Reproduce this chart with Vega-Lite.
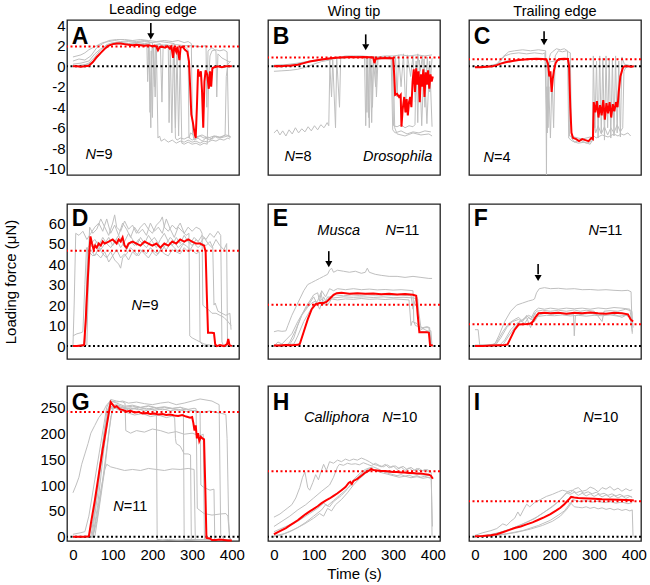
{
"$schema":"https://vega.github.io/schema/vega-lite/v6.json",
"padding":{"left":2,"top":0,"right":2,"bottom":3},
"config":{"font":"Liberation Sans","view":{"stroke":"#222","strokeWidth":1.3},
"axis":{"grid":false,"domain":false,"ticks":false,"labelFontSize":15,"labelColor":"#000","titleFontSize":15,"titleFontWeight":"normal","titleColor":"#000","labelPadding":2},
"axisY":{"minExtent":30,"maxExtent":30,"titlePadding":19},
"title":{"fontSize":14.5,"fontWeight":"normal","color":"#000","offset":1}},
"datasets":{
"A":[
{"s":0,"t":0,"v":0},{"s":0,"t":10,"v":0},{"s":0,"t":20,"v":-0.05},{"s":0,"t":30,"v":0},{"s":0,"t":40,"v":0.05},{"s":0,"t":50,"v":0.4},{"s":0,"t":60,"v":0.9},{"s":0,"t":70,"v":1.3},{"s":0,"t":80,"v":1.7},{"s":0,"t":90,"v":2.0},{"s":0,"t":100,"v":2.15},{"s":0,"t":110,"v":2.2},{"s":0,"t":120,"v":2.2},{"s":0,"t":130,"v":2.15},{"s":0,"t":140,"v":2.1},{"s":0,"t":150,"v":2.05},{"s":0,"t":160,"v":2.1},{"s":0,"t":170,"v":2.05},{"s":0,"t":180,"v":2.0},{"s":0,"t":190,"v":2.05},{"s":0,"t":200,"v":1.95},{"s":0,"t":205,"v":2.0},{"s":0,"t":210,"v":1.9},{"s":0,"t":214,"v":1.55},{"s":0,"t":218,"v":1.85},{"s":0,"t":225,"v":1.9},{"s":0,"t":232,"v":1.8},{"s":0,"t":238,"v":1.95},{"s":0,"t":244,"v":1.7},{"s":0,"t":248,"v":1.9},{"s":0,"t":252,"v":0.8},{"s":0,"t":255,"v":1.9},{"s":0,"t":260,"v":1.4},{"s":0,"t":263,"v":1.9},{"s":0,"t":268,"v":0.6},{"s":0,"t":271,"v":1.8},{"s":0,"t":276,"v":1.9},{"s":0,"t":282,"v":1.6},{"s":0,"t":288,"v":1.4},{"s":0,"t":292,"v":0.5},{"s":0,"t":295,"v":-2.0},{"s":0,"t":298,"v":-4.7},{"s":0,"t":302,"v":-5.5},{"s":0,"t":306,"v":-6.5},{"s":0,"t":309,"v":-7.0},{"s":0,"t":312,"v":-4.0},{"s":0,"t":315,"v":-0.3},{"s":0,"t":318,"v":-1.0},{"s":0,"t":322,"v":-0.5},{"s":0,"t":325,"v":-2.5},{"s":0,"t":328,"v":-6.0},{"s":0,"t":331,"v":-1.5},{"s":0,"t":334,"v":-0.4},{"s":0,"t":338,"v":-0.8},{"s":0,"t":342,"v":-2.2},{"s":0,"t":345,"v":-0.5},{"s":0,"t":348,"v":-2.0},{"s":0,"t":351,"v":-0.2},{"s":0,"t":356,"v":-0.1},{"s":0,"t":365,"v":0},{"s":0,"t":375,"v":-0.1},{"s":0,"t":385,"v":0},{"s":0,"t":395,"v":0},{"s":0,"t":400,"v":0},
{"s":1,"t":0,"v":0.9},{"s":1,"t":10,"v":1.0},{"s":1,"t":20,"v":1.1},{"s":1,"t":30,"v":1.3},{"s":1,"t":40,"v":1.6},{"s":1,"t":50,"v":1.8},{"s":1,"t":60,"v":2.0},{"s":1,"t":75,"v":2.3},{"s":1,"t":90,"v":2.4},{"s":1,"t":105,"v":2.5},{"s":1,"t":120,"v":2.4},{"s":1,"t":140,"v":2.5},{"s":1,"t":160,"v":2.4},{"s":1,"t":180,"v":2.5},{"s":1,"t":192,"v":2.4},{"s":1,"t":194,"v":-4.5},{"s":1,"t":197,"v":1.5},{"s":1,"t":200,"v":-5.0},{"s":1,"t":203,"v":2.0},{"s":1,"t":207,"v":-3},{"s":1,"t":210,"v":2.0},{"s":1,"t":214,"v":-7.0},{"s":1,"t":218,"v":-6.8},{"s":1,"t":222,"v":-7.3},{"s":1,"t":230,"v":-7.1},{"s":1,"t":240,"v":-7.4},{"s":1,"t":250,"v":-7.2},{"s":1,"t":260,"v":-7.5},{"s":1,"t":270,"v":-7.3},{"s":1,"t":280,"v":-7.4},{"s":1,"t":290,"v":-7.2},{"s":1,"t":300,"v":-7.4},{"s":1,"t":310,"v":-7.3},{"s":1,"t":320,"v":-7.5},{"s":1,"t":330,"v":-7.3},{"s":1,"t":340,"v":-7.4},{"s":1,"t":350,"v":-7.2},{"s":1,"t":360,"v":-7.3},{"s":1,"t":370,"v":-7.1},{"s":1,"t":380,"v":-7.2},{"s":1,"t":390,"v":-7.0},{"s":1,"t":395,"v":-7.1},
{"s":2,"t":0,"v":0.1},{"s":2,"t":20,"v":0},{"s":2,"t":40,"v":0.3},{"s":2,"t":55,"v":0.9},{"s":2,"t":70,"v":1.6},{"s":2,"t":85,"v":2.1},{"s":2,"t":100,"v":2.3},{"s":2,"t":120,"v":2.3},{"s":2,"t":140,"v":2.2},{"s":2,"t":160,"v":2.3},{"s":2,"t":180,"v":2.2},{"s":2,"t":200,"v":2.3},{"s":2,"t":205,"v":-2.0},{"s":2,"t":208,"v":2.1},{"s":2,"t":220,"v":2.2},{"s":2,"t":224,"v":-3.5},{"s":2,"t":227,"v":2.0},{"s":2,"t":235,"v":2.1},{"s":2,"t":245,"v":2.0},{"s":2,"t":249,"v":-6.5},{"s":2,"t":253,"v":1.8},{"s":2,"t":258,"v":-7.0},{"s":2,"t":262,"v":-7.2},{"s":2,"t":270,"v":-7.0},{"s":2,"t":280,"v":-7.1},{"s":2,"t":290,"v":-6.9},{"s":2,"t":300,"v":-7.2},{"s":2,"t":310,"v":-7.0},{"s":2,"t":320,"v":-6.8},{"s":2,"t":330,"v":-7.0},{"s":2,"t":340,"v":-6.9},{"s":2,"t":350,"v":-7.1},{"s":2,"t":360,"v":-6.8},{"s":2,"t":370,"v":-7.0},{"s":2,"t":380,"v":-6.9},{"s":2,"t":390,"v":-6.8},{"s":2,"t":398,"v":-6.9},
{"s":3,"t":0,"v":0.5},{"s":3,"t":15,"v":0.7},{"s":3,"t":30,"v":0.6},{"s":3,"t":45,"v":1.0},{"s":3,"t":60,"v":1.8},{"s":3,"t":75,"v":2.2},{"s":3,"t":90,"v":2.5},{"s":3,"t":110,"v":2.6},{"s":3,"t":130,"v":2.6},{"s":3,"t":150,"v":2.5},{"s":3,"t":170,"v":2.6},{"s":3,"t":190,"v":2.5},{"s":3,"t":210,"v":2.4},{"s":3,"t":230,"v":2.5},{"s":3,"t":250,"v":2.4},{"s":3,"t":265,"v":2.5},{"s":3,"t":280,"v":2.3},{"s":3,"t":290,"v":2.4},{"s":3,"t":298,"v":2.2},{"s":3,"t":301,"v":-6.5},{"s":3,"t":305,"v":-7.2},{"s":3,"t":315,"v":-7.0},{"s":3,"t":325,"v":-7.3},{"s":3,"t":335,"v":-7.0},{"s":3,"t":345,"v":-7.2},{"s":3,"t":355,"v":-6.8},{"s":3,"t":365,"v":-7.0},{"s":3,"t":375,"v":-6.9},{"s":3,"t":383,"v":-6.7},{"s":3,"t":386,"v":-1.0},{"s":3,"t":390,"v":0.2},{"s":3,"t":397,"v":0.5},
{"s":4,"t":0,"v":0.2},{"s":4,"t":20,"v":0.3},{"s":4,"t":40,"v":0.5},{"s":4,"t":55,"v":1.2},{"s":4,"t":70,"v":1.7},{"s":4,"t":85,"v":2.0},{"s":4,"t":100,"v":2.1},{"s":4,"t":120,"v":2.2},{"s":4,"t":140,"v":2.1},{"s":4,"t":160,"v":2.0},{"s":4,"t":180,"v":2.1},{"s":4,"t":200,"v":2.0},{"s":4,"t":220,"v":2.1},{"s":4,"t":240,"v":2.0},{"s":4,"t":260,"v":2.1},{"s":4,"t":280,"v":2.0},{"s":4,"t":300,"v":2.0},{"s":4,"t":320,"v":1.9},{"s":4,"t":335,"v":2.0},{"s":4,"t":337,"v":-4.0},{"s":4,"t":340,"v":1.5},{"s":4,"t":350,"v":1.8},{"s":4,"t":360,"v":1.5},{"s":4,"t":362,"v":-3.0},{"s":4,"t":365,"v":1.2},{"s":4,"t":375,"v":0.8},{"s":4,"t":385,"v":0.6},{"s":4,"t":395,"v":0.4},
{"s":5,"t":0,"v":0},{"s":5,"t":20,"v":0.1},{"s":5,"t":40,"v":0.2},{"s":5,"t":55,"v":0.6},{"s":5,"t":70,"v":1.3},{"s":5,"t":85,"v":1.9},{"s":5,"t":100,"v":2.2},{"s":5,"t":120,"v":2.3},{"s":5,"t":140,"v":2.4},{"s":5,"t":160,"v":2.3},{"s":5,"t":180,"v":2.4},{"s":5,"t":200,"v":2.3},{"s":5,"t":220,"v":2.4},{"s":5,"t":240,"v":2.3},{"s":5,"t":255,"v":2.2},{"s":5,"t":258,"v":-6.0},{"s":5,"t":262,"v":1.5},{"s":5,"t":266,"v":-6.8},{"s":5,"t":270,"v":1.0},{"s":5,"t":274,"v":-7.5},{"s":5,"t":280,"v":-7.6},{"s":5,"t":290,"v":-7.4},{"s":5,"t":300,"v":-7.6},{"s":5,"t":310,"v":-7.5},{"s":5,"t":320,"v":-7.7},{"s":5,"t":330,"v":-7.5},{"s":5,"t":338,"v":-7.6},{"s":5,"t":342,"v":-1.0},{"s":5,"t":345,"v":1.0},{"s":5,"t":350,"v":1.5},{"s":5,"t":360,"v":1.6},{"s":5,"t":370,"v":1.5},{"s":5,"t":380,"v":1.6},{"s":5,"t":388,"v":1.4},{"s":5,"t":392,"v":-6.8},{"s":5,"t":396,"v":-7.0},
{"s":6,"t":0,"v":0},{"s":6,"t":30,"v":0},{"s":6,"t":50,"v":0.3},{"s":6,"t":65,"v":1.0},{"s":6,"t":80,"v":1.8},{"s":6,"t":95,"v":2.1},{"s":6,"t":115,"v":2.2},{"s":6,"t":135,"v":2.1},{"s":6,"t":155,"v":2.2},{"s":6,"t":175,"v":2.1},{"s":6,"t":186,"v":2.2},{"s":6,"t":188,"v":-1.5},{"s":6,"t":190,"v":2.0},{"s":6,"t":196,"v":-6.0},{"s":6,"t":199,"v":1.8},{"s":6,"t":215,"v":1.9},{"s":6,"t":230,"v":2.0},{"s":6,"t":240,"v":1.8},{"s":6,"t":242,"v":-5.5},{"s":6,"t":245,"v":1.8},{"s":6,"t":258,"v":1.7},{"s":6,"t":270,"v":1.8},{"s":6,"t":282,"v":1.9},{"s":6,"t":290,"v":1.6},{"s":6,"t":292,"v":-7.0},{"s":6,"t":296,"v":-6.5},{"s":6,"t":310,"v":-6.9},{"s":6,"t":325,"v":-6.7},{"s":6,"t":340,"v":-7.0},{"s":6,"t":355,"v":-6.8},{"s":6,"t":370,"v":-6.9},{"s":6,"t":385,"v":-6.7},{"s":6,"t":395,"v":-6.8}
],
"B":[
{"s":0,"t":0,"v":0.0},{"s":0,"t":10,"v":0.02},{"s":0,"t":20,"v":0.0},{"s":0,"t":30,"v":0.05},{"s":0,"t":40,"v":0.05},{"s":0,"t":50,"v":0.1},{"s":0,"t":60,"v":0.15},{"s":0,"t":75,"v":0.3},{"s":0,"t":90,"v":0.45},{"s":0,"t":105,"v":0.55},{"s":0,"t":120,"v":0.65},{"s":0,"t":135,"v":0.72},{"s":0,"t":150,"v":0.8},{"s":0,"t":165,"v":0.85},{"s":0,"t":180,"v":0.88},{"s":0,"t":195,"v":0.9},{"s":0,"t":210,"v":0.88},{"s":0,"t":225,"v":0.9},{"s":0,"t":240,"v":0.88},{"s":0,"t":250,"v":0.85},{"s":0,"t":253,"v":0.3},{"s":0,"t":256,"v":0.7},{"s":0,"t":262,"v":0.75},{"s":0,"t":270,"v":0.78},{"s":0,"t":280,"v":0.8},{"s":0,"t":290,"v":0.78},{"s":0,"t":300,"v":0.78},{"s":0,"t":303,"v":-1.0},{"s":0,"t":305,"v":-2.8},{"s":0,"t":310,"v":-2.7},{"s":0,"t":315,"v":-3.0},{"s":0,"t":319,"v":-2.8},{"s":0,"t":321,"v":-5.9},{"s":0,"t":324,"v":-4.2},{"s":0,"t":328,"v":-3.0},{"s":0,"t":331,"v":-4.5},{"s":0,"t":334,"v":-3.2},{"s":0,"t":337,"v":-4.8},{"s":0,"t":340,"v":-3.5},{"s":0,"t":343,"v":-3.0},{"s":0,"t":346,"v":-4.0},{"s":0,"t":349,"v":-1.5},{"s":0,"t":352,"v":-0.3},{"s":0,"t":355,"v":-2.5},{"s":0,"t":358,"v":-0.2},{"s":0,"t":361,"v":-1.8},{"s":0,"t":364,"v":-0.5},{"s":0,"t":367,"v":-3.5},{"s":0,"t":370,"v":-0.8},{"s":0,"t":373,"v":-2.0},{"s":0,"t":376,"v":-0.3},{"s":0,"t":379,"v":-3.0},{"s":0,"t":382,"v":-0.6},{"s":0,"t":385,"v":-1.8},{"s":0,"t":388,"v":-0.4},{"s":0,"t":391,"v":-2.2},{"s":0,"t":394,"v":-0.8},{"s":0,"t":397,"v":-1.5},{"s":0,"t":400,"v":-1.0},
{"s":1,"t":0,"v":-6.5},{"s":1,"t":8,"v":-6.2},{"s":1,"t":15,"v":-6.7},{"s":1,"t":22,"v":-6.3},{"s":1,"t":30,"v":-6.8},{"s":1,"t":38,"v":-6.2},{"s":1,"t":46,"v":-6.6},{"s":1,"t":54,"v":-6.0},{"s":1,"t":62,"v":-6.5},{"s":1,"t":70,"v":-6.1},{"s":1,"t":78,"v":-6.4},{"s":1,"t":86,"v":-5.9},{"s":1,"t":94,"v":-6.3},{"s":1,"t":102,"v":-5.8},{"s":1,"t":110,"v":-6.2},{"s":1,"t":118,"v":-5.7},{"s":1,"t":126,"v":-6.0},{"s":1,"t":134,"v":-5.5},{"s":1,"t":138,"v":-5.8},{"s":1,"t":141,"v":0.6},{"s":1,"t":150,"v":0.7},{"s":1,"t":160,"v":0.8},{"s":1,"t":170,"v":0.9},{"s":1,"t":180,"v":1.0},{"s":1,"t":200,"v":1.0},{"s":1,"t":220,"v":1.0},{"s":1,"t":235,"v":0.95},{"s":1,"t":238,"v":-5.0},{"s":1,"t":241,"v":0.9},{"s":1,"t":260,"v":0.9},{"s":1,"t":280,"v":1.0},{"s":1,"t":300,"v":1.0},{"s":1,"t":320,"v":1.1},{"s":1,"t":340,"v":1.0},{"s":1,"t":360,"v":1.1},{"s":1,"t":380,"v":1.0},{"s":1,"t":398,"v":1.1},
{"s":2,"t":0,"v":-0.5},{"s":2,"t":20,"v":-0.45},{"s":2,"t":40,"v":-0.4},{"s":2,"t":60,"v":-0.3},{"s":2,"t":80,"v":-0.1},{"s":2,"t":100,"v":0.2},{"s":2,"t":120,"v":0.45},{"s":2,"t":140,"v":0.6},{"s":2,"t":145,"v":-3.0},{"s":2,"t":148,"v":0.6},{"s":2,"t":155,"v":-6.0},{"s":2,"t":158,"v":0.7},{"s":2,"t":165,"v":-4.0},{"s":2,"t":168,"v":0.75},{"s":2,"t":180,"v":0.85},{"s":2,"t":200,"v":0.9},{"s":2,"t":220,"v":0.9},{"s":2,"t":232,"v":0.85},{"s":2,"t":234,"v":-4.5},{"s":2,"t":236,"v":0.8},{"s":2,"t":240,"v":-6.0},{"s":2,"t":243,"v":0.7},{"s":2,"t":246,"v":-5.5},{"s":2,"t":250,"v":0.8},{"s":2,"t":256,"v":-2.0},{"s":2,"t":260,"v":0.7},{"s":2,"t":280,"v":0.75},{"s":2,"t":295,"v":0.7},{"s":2,"t":299,"v":-6.2},{"s":2,"t":305,"v":-6.5},{"s":2,"t":320,"v":-6.3},{"s":2,"t":335,"v":-6.6},{"s":2,"t":350,"v":-6.4},{"s":2,"t":365,"v":-6.5},{"s":2,"t":380,"v":-6.3},{"s":2,"t":395,"v":-6.4},
{"s":3,"t":0,"v":0.1},{"s":3,"t":30,"v":0.15},{"s":3,"t":60,"v":0.3},{"s":3,"t":90,"v":0.5},{"s":3,"t":120,"v":0.7},{"s":3,"t":150,"v":0.85},{"s":3,"t":180,"v":0.9},{"s":3,"t":210,"v":0.95},{"s":3,"t":228,"v":0.9},{"s":3,"t":231,"v":-5.8},{"s":3,"t":234,"v":0.9},{"s":3,"t":244,"v":0.8},{"s":3,"t":248,"v":-4.0},{"s":3,"t":251,"v":0.85},{"s":3,"t":270,"v":0.9},{"s":3,"t":290,"v":0.85},{"s":3,"t":298,"v":0.8},{"s":3,"t":301,"v":-5.8},{"s":3,"t":310,"v":-5.9},{"s":3,"t":320,"v":-5.7},{"s":3,"t":330,"v":-6.0},{"s":3,"t":340,"v":-5.8},{"s":3,"t":350,"v":-5.9},{"s":3,"t":355,"v":-5.7},{"s":3,"t":358,"v":0.5},{"s":3,"t":362,"v":-5.5},{"s":3,"t":366,"v":0.6},{"s":3,"t":372,"v":-5.8},{"s":3,"t":378,"v":0.7},{"s":3,"t":385,"v":-5.6},{"s":3,"t":392,"v":0.5},{"s":3,"t":398,"v":-5.9},
{"s":4,"t":0,"v":0.0},{"s":4,"t":40,"v":0.1},{"s":4,"t":80,"v":0.4},{"s":4,"t":120,"v":0.6},{"s":4,"t":160,"v":0.8},{"s":4,"t":200,"v":0.9},{"s":4,"t":240,"v":0.9},{"s":4,"t":270,"v":0.85},{"s":4,"t":285,"v":0.9},{"s":4,"t":300,"v":0.85},{"s":4,"t":303,"v":-0.5},{"s":4,"t":306,"v":1.0},{"s":4,"t":310,"v":-3.0},{"s":4,"t":314,"v":1.1},{"s":4,"t":320,"v":-2.0},{"s":4,"t":326,"v":1.2},{"s":4,"t":332,"v":-4.5},{"s":4,"t":336,"v":1.1},{"s":4,"t":344,"v":-1.0},{"s":4,"t":350,"v":1.0},{"s":4,"t":356,"v":-3.5},{"s":4,"t":362,"v":1.2},{"s":4,"t":368,"v":-0.5},{"s":4,"t":374,"v":1.0},{"s":4,"t":380,"v":-4.0},{"s":4,"t":386,"v":0.9},{"s":4,"t":392,"v":-2.5},{"s":4,"t":398,"v":0.8},
{"s":5,"t":0,"v":0.05},{"s":5,"t":50,"v":0.1},{"s":5,"t":100,"v":0.5},{"s":5,"t":150,"v":0.75},{"s":5,"t":200,"v":0.88},{"s":5,"t":240,"v":0.9},{"s":5,"t":255,"v":0.85},{"s":5,"t":258,"v":-3.0},{"s":5,"t":262,"v":0.8},{"s":5,"t":280,"v":0.85},{"s":5,"t":300,"v":0.8},{"s":5,"t":304,"v":-6.0},{"s":5,"t":310,"v":-6.6},{"s":5,"t":330,"v":-6.8},{"s":5,"t":350,"v":-6.5},{"s":5,"t":370,"v":-6.7},{"s":5,"t":390,"v":-6.6},{"s":5,"t":398,"v":-6.8}
],
"C":[
{"s":0,"t":0,"v":-0.1},{"s":0,"t":15,"v":-0.1},{"s":0,"t":30,"v":-0.05},{"s":0,"t":45,"v":0.0},{"s":0,"t":55,"v":0.1},{"s":0,"t":65,"v":0.25},{"s":0,"t":80,"v":0.4},{"s":0,"t":95,"v":0.5},{"s":0,"t":110,"v":0.6},{"s":0,"t":125,"v":0.65},{"s":0,"t":140,"v":0.7},{"s":0,"t":155,"v":0.72},{"s":0,"t":170,"v":0.7},{"s":0,"t":180,"v":0.65},{"s":0,"t":184,"v":0.2},{"s":0,"t":187,"v":-1.0},{"s":0,"t":190,"v":-0.5},{"s":0,"t":193,"v":-2.5},{"s":0,"t":196,"v":-1.2},{"s":0,"t":199,"v":-0.4},{"s":0,"t":203,"v":0.3},{"s":0,"t":208,"v":0.6},{"s":0,"t":215,"v":0.7},{"s":0,"t":225,"v":0.72},{"s":0,"t":234,"v":0.7},{"s":0,"t":237,"v":0.0},{"s":0,"t":240,"v":-4.0},{"s":0,"t":243,"v":-6.5},{"s":0,"t":247,"v":-7.0},{"s":0,"t":255,"v":-7.1},{"s":0,"t":262,"v":-7.3},{"s":0,"t":270,"v":-7.1},{"s":0,"t":278,"v":-7.2},{"s":0,"t":286,"v":-7.3},{"s":0,"t":293,"v":-7.0},{"s":0,"t":297,"v":-7.1},{"s":0,"t":299,"v":-3.5},{"s":0,"t":303,"v":-4.5},{"s":0,"t":307,"v":-3.4},{"s":0,"t":311,"v":-5.0},{"s":0,"t":315,"v":-3.8},{"s":0,"t":319,"v":-4.8},{"s":0,"t":323,"v":-3.3},{"s":0,"t":327,"v":-5.2},{"s":0,"t":331,"v":-3.6},{"s":0,"t":335,"v":-4.6},{"s":0,"t":339,"v":-3.5},{"s":0,"t":343,"v":-5.0},{"s":0,"t":347,"v":-3.7},{"s":0,"t":351,"v":-4.4},{"s":0,"t":355,"v":-3.5},{"s":0,"t":359,"v":-4.0},{"s":0,"t":362,"v":-2.5},{"s":0,"t":366,"v":-1.0},{"s":0,"t":369,"v":-0.6},{"s":0,"t":372,"v":-0.2},{"s":0,"t":376,"v":0.0},{"s":0,"t":385,"v":0.0},{"s":0,"t":393,"v":-0.05},{"s":0,"t":400,"v":0.0},
{"s":1,"t":0,"v":-0.1},{"s":1,"t":30,"v":0.0},{"s":1,"t":55,"v":0.2},{"s":1,"t":70,"v":0.9},{"s":1,"t":85,"v":1.4},{"s":1,"t":100,"v":1.5},{"s":1,"t":120,"v":1.6},{"s":1,"t":140,"v":1.5},{"s":1,"t":160,"v":1.6},{"s":1,"t":178,"v":1.5},{"s":1,"t":180,"v":-10.6},{"s":1,"t":181,"v":-2.0},{"s":1,"t":184,"v":-6.0},{"s":1,"t":187,"v":0.8},{"s":1,"t":190,"v":1.2},{"s":1,"t":195,"v":1.4},{"s":1,"t":205,"v":1.7},{"s":1,"t":215,"v":1.6},{"s":1,"t":225,"v":1.7},{"s":1,"t":233,"v":1.5},{"s":1,"t":236,"v":-7.0},{"s":1,"t":245,"v":-7.3},{"s":1,"t":260,"v":-7.5},{"s":1,"t":275,"v":-7.4},{"s":1,"t":290,"v":-7.6},{"s":1,"t":296,"v":-7.2},{"s":1,"t":298,"v":1.0},{"s":1,"t":302,"v":-6.0},{"s":1,"t":306,"v":0.5},{"s":1,"t":310,"v":-7.0},{"s":1,"t":314,"v":1.0},{"s":1,"t":318,"v":-6.5},{"s":1,"t":322,"v":0.8},{"s":1,"t":326,"v":-7.2},{"s":1,"t":330,"v":1.0},{"s":1,"t":334,"v":-6.0},{"s":1,"t":338,"v":0.8},{"s":1,"t":342,"v":-7.0},{"s":1,"t":346,"v":0.6},{"s":1,"t":350,"v":-6.8},{"s":1,"t":354,"v":1.0},{"s":1,"t":358,"v":-6.5},{"s":1,"t":362,"v":0.5},{"s":1,"t":366,"v":-6.9},{"s":1,"t":370,"v":0.9},{"s":1,"t":376,"v":0.2},{"s":1,"t":386,"v":0.1},{"s":1,"t":398,"v":0.0},
{"s":2,"t":0,"v":-0.1},{"s":2,"t":40,"v":0.0},{"s":2,"t":60,"v":0.3},{"s":2,"t":75,"v":1.0},{"s":2,"t":90,"v":1.2},{"s":2,"t":110,"v":1.3},{"s":2,"t":130,"v":1.2},{"s":2,"t":150,"v":1.3},{"s":2,"t":170,"v":1.2},{"s":2,"t":176,"v":1.3},{"s":2,"t":179,"v":-3.0},{"s":2,"t":182,"v":-6.5},{"s":2,"t":186,"v":-2.0},{"s":2,"t":190,"v":-7.0},{"s":2,"t":194,"v":-1.0},{"s":2,"t":198,"v":-6.0},{"s":2,"t":202,"v":1.0},{"s":2,"t":210,"v":1.5},{"s":2,"t":220,"v":1.4},{"s":2,"t":230,"v":1.5},{"s":2,"t":240,"v":1.3},{"s":2,"t":243,"v":-7.0},{"s":2,"t":250,"v":-7.4},{"s":2,"t":265,"v":-7.2},{"s":2,"t":280,"v":-7.5},{"s":2,"t":295,"v":-7.3},{"s":2,"t":300,"v":-6.8},{"s":2,"t":305,"v":-7.0},{"s":2,"t":320,"v":-6.7},{"s":2,"t":335,"v":-6.9},{"s":2,"t":350,"v":-6.6},{"s":2,"t":360,"v":-6.8},{"s":2,"t":368,"v":-6.6},{"s":2,"t":375,"v":-6.7},{"s":2,"t":385,"v":-6.5},{"s":2,"t":392,"v":-6.8},
{"s":3,"t":0,"v":-0.05},{"s":3,"t":50,"v":0.1},{"s":3,"t":80,"v":0.5},{"s":3,"t":110,"v":0.6},{"s":3,"t":140,"v":0.7},{"s":3,"t":170,"v":0.65},{"s":3,"t":181,"v":0.6},{"s":3,"t":183,"v":-4.0},{"s":3,"t":186,"v":0.4},{"s":3,"t":200,"v":0.5},{"s":3,"t":215,"v":0.6},{"s":3,"t":230,"v":0.65},{"s":3,"t":236,"v":0.6},{"s":3,"t":238,"v":-6.8},{"s":3,"t":250,"v":-6.9},{"s":3,"t":270,"v":-7.1},{"s":3,"t":290,"v":-6.9},{"s":3,"t":298,"v":-7.0},{"s":3,"t":300,"v":-5.5},{"s":3,"t":304,"v":-6.5},{"s":3,"t":310,"v":-5.8},{"s":3,"t":318,"v":-6.6},{"s":3,"t":326,"v":-5.9},{"s":3,"t":334,"v":-6.7},{"s":3,"t":342,"v":-6.0},{"s":3,"t":350,"v":-6.5},{"s":3,"t":358,"v":-5.7},{"s":3,"t":366,"v":-6.4},{"s":3,"t":372,"v":-6.0},{"s":3,"t":375,"v":-0.5},{"s":3,"t":380,"v":-0.1},{"s":3,"t":390,"v":0.0},{"s":3,"t":398,"v":-0.1}
],
"D":[
{"s":0,"t":0,"v":0},{"s":0,"t":10,"v":0},{"s":0,"t":20,"v":0.3},{"s":0,"t":28,"v":0.5},{"s":0,"t":32,"v":12},{"s":0,"t":36,"v":28},{"s":0,"t":40,"v":42},{"s":0,"t":44,"v":53.5},{"s":0,"t":48,"v":50},{"s":0,"t":52,"v":47},{"s":0,"t":56,"v":49},{"s":0,"t":60,"v":48},{"s":0,"t":65,"v":50},{"s":0,"t":70,"v":49},{"s":0,"t":75,"v":51},{"s":0,"t":80,"v":50},{"s":0,"t":90,"v":51},{"s":0,"t":100,"v":52},{"s":0,"t":110,"v":50},{"s":0,"t":115,"v":52},{"s":0,"t":120,"v":51},{"s":0,"t":125,"v":53},{"s":0,"t":130,"v":49},{"s":0,"t":135,"v":48},{"s":0,"t":140,"v":50},{"s":0,"t":150,"v":51},{"s":0,"t":160,"v":50},{"s":0,"t":170,"v":49},{"s":0,"t":180,"v":51},{"s":0,"t":190,"v":50},{"s":0,"t":200,"v":49},{"s":0,"t":210,"v":50},{"s":0,"t":220,"v":48},{"s":0,"t":230,"v":50},{"s":0,"t":240,"v":49},{"s":0,"t":250,"v":51},{"s":0,"t":260,"v":50},{"s":0,"t":270,"v":52},{"s":0,"t":280,"v":51},{"s":0,"t":290,"v":52},{"s":0,"t":300,"v":51},{"s":0,"t":310,"v":50},{"s":0,"t":320,"v":50},{"s":0,"t":330,"v":49},{"s":0,"t":334,"v":46},{"s":0,"t":337,"v":25},{"s":0,"t":340,"v":6.5},{"s":0,"t":345,"v":6.5},{"s":0,"t":350,"v":6.5},{"s":0,"t":355,"v":6.3},{"s":0,"t":358,"v":1},{"s":0,"t":362,"v":0},{"s":0,"t":370,"v":0.5},{"s":0,"t":380,"v":0},{"s":0,"t":388,"v":1},{"s":0,"t":391,"v":3.5},{"s":0,"t":394,"v":0.5},{"s":0,"t":400,"v":0},
{"s":1,"t":0,"v":0},{"s":1,"t":3,"v":20},{"s":1,"t":7,"v":55},{"s":1,"t":15,"v":54},{"s":1,"t":25,"v":56},{"s":1,"t":35,"v":52},{"s":1,"t":45,"v":55},{"s":1,"t":55,"v":58},{"s":1,"t":65,"v":60},{"s":1,"t":75,"v":56},{"s":1,"t":85,"v":62},{"s":1,"t":95,"v":55},{"s":1,"t":105,"v":59},{"s":1,"t":115,"v":54},{"s":1,"t":125,"v":60},{"s":1,"t":135,"v":57},{"s":1,"t":145,"v":53},{"s":1,"t":155,"v":58},{"s":1,"t":165,"v":55},{"s":1,"t":175,"v":57},{"s":1,"t":185,"v":54},{"s":1,"t":195,"v":60},{"s":1,"t":205,"v":56},{"s":1,"t":215,"v":58},{"s":1,"t":225,"v":55},{"s":1,"t":235,"v":62},{"s":1,"t":245,"v":57},{"s":1,"t":255,"v":53},{"s":1,"t":265,"v":58},{"s":1,"t":275,"v":56},{"s":1,"t":285,"v":54},{"s":1,"t":292,"v":55},{"s":1,"t":294,"v":5},{"s":1,"t":300,"v":4},{"s":1,"t":310,"v":3},{"s":1,"t":320,"v":2},{"s":1,"t":330,"v":1},{"s":1,"t":345,"v":0.5},{"s":1,"t":360,"v":0},{"s":1,"t":375,"v":0},{"s":1,"t":395,"v":0},
{"s":2,"t":0,"v":5},{"s":2,"t":10,"v":6},{"s":2,"t":20,"v":6.5},{"s":2,"t":25,"v":7},{"s":2,"t":30,"v":30},{"s":2,"t":34,"v":48},{"s":2,"t":40,"v":46},{"s":2,"t":50,"v":44},{"s":2,"t":60,"v":45},{"s":2,"t":70,"v":43},{"s":2,"t":80,"v":46},{"s":2,"t":90,"v":41},{"s":2,"t":100,"v":44},{"s":2,"t":110,"v":47},{"s":2,"t":120,"v":43},{"s":2,"t":130,"v":45},{"s":2,"t":140,"v":42},{"s":2,"t":150,"v":46},{"s":2,"t":160,"v":44},{"s":2,"t":170,"v":47},{"s":2,"t":180,"v":45},{"s":2,"t":190,"v":43},{"s":2,"t":200,"v":46},{"s":2,"t":210,"v":44},{"s":2,"t":220,"v":47},{"s":2,"t":230,"v":45},{"s":2,"t":240,"v":44},{"s":2,"t":250,"v":47},{"s":2,"t":260,"v":46},{"s":2,"t":270,"v":45},{"s":2,"t":280,"v":48},{"s":2,"t":290,"v":46},{"s":2,"t":300,"v":47},{"s":2,"t":310,"v":45},{"s":2,"t":318,"v":46},{"s":2,"t":320,"v":2},{"s":2,"t":330,"v":0},{"s":2,"t":345,"v":0},{"s":2,"t":360,"v":0},
{"s":3,"t":0,"v":0},{"s":3,"t":25,"v":0},{"s":3,"t":30,"v":2},{"s":3,"t":36,"v":30},{"s":3,"t":42,"v":58},{"s":3,"t":50,"v":55},{"s":3,"t":60,"v":57},{"s":3,"t":70,"v":62},{"s":3,"t":80,"v":58},{"s":3,"t":90,"v":54},{"s":3,"t":100,"v":60},{"s":3,"t":105,"v":64},{"s":3,"t":110,"v":58},{"s":3,"t":120,"v":56},{"s":3,"t":130,"v":61},{"s":3,"t":140,"v":57},{"s":3,"t":150,"v":59},{"s":3,"t":160,"v":55},{"s":3,"t":170,"v":58},{"s":3,"t":180,"v":60},{"s":3,"t":190,"v":57},{"s":3,"t":200,"v":55},{"s":3,"t":210,"v":59},{"s":3,"t":220,"v":61},{"s":3,"t":225,"v":63},{"s":3,"t":230,"v":58},{"s":3,"t":240,"v":56},{"s":3,"t":250,"v":59},{"s":3,"t":260,"v":57},{"s":3,"t":270,"v":60},{"s":3,"t":280,"v":55},{"s":3,"t":290,"v":58},{"s":3,"t":300,"v":56},{"s":3,"t":310,"v":58},{"s":3,"t":320,"v":57},{"s":3,"t":325,"v":55},{"s":3,"t":327,"v":20},{"s":3,"t":332,"v":19},{"s":3,"t":340,"v":18},{"s":3,"t":350,"v":16},{"s":3,"t":360,"v":16},{"s":3,"t":370,"v":15},{"s":3,"t":380,"v":14},{"s":3,"t":390,"v":12},{"s":3,"t":398,"v":10},
{"s":4,"t":0,"v":0},{"s":4,"t":30,"v":0.5},{"s":4,"t":34,"v":20},{"s":4,"t":38,"v":45},{"s":4,"t":45,"v":47},{"s":4,"t":55,"v":44},{"s":4,"t":65,"v":48},{"s":4,"t":75,"v":45},{"s":4,"t":85,"v":43},{"s":4,"t":95,"v":46},{"s":4,"t":105,"v":42},{"s":4,"t":115,"v":40},{"s":4,"t":120,"v":38},{"s":4,"t":125,"v":43},{"s":4,"t":135,"v":45},{"s":4,"t":145,"v":48},{"s":4,"t":155,"v":46},{"s":4,"t":165,"v":44},{"s":4,"t":175,"v":47},{"s":4,"t":185,"v":45},{"s":4,"t":195,"v":48},{"s":4,"t":205,"v":46},{"s":4,"t":215,"v":45},{"s":4,"t":225,"v":49},{"s":4,"t":235,"v":47},{"s":4,"t":245,"v":50},{"s":4,"t":255,"v":48},{"s":4,"t":265,"v":46},{"s":4,"t":275,"v":49},{"s":4,"t":285,"v":52},{"s":4,"t":295,"v":50},{"s":4,"t":305,"v":53},{"s":4,"t":315,"v":51},{"s":4,"t":325,"v":54},{"s":4,"t":335,"v":52},{"s":4,"t":345,"v":55},{"s":4,"t":355,"v":53},{"s":4,"t":365,"v":56},{"s":4,"t":372,"v":54},{"s":4,"t":375,"v":2},{"s":4,"t":380,"v":0},{"s":4,"t":390,"v":0},{"s":4,"t":398,"v":0},
{"s":5,"t":0,"v":0},{"s":5,"t":35,"v":0.5},{"s":5,"t":38,"v":25},{"s":5,"t":42,"v":50},{"s":5,"t":50,"v":48},{"s":5,"t":60,"v":51},{"s":5,"t":70,"v":47},{"s":5,"t":80,"v":50},{"s":5,"t":90,"v":53},{"s":5,"t":100,"v":49},{"s":5,"t":110,"v":52},{"s":5,"t":120,"v":48},{"s":5,"t":130,"v":51},{"s":5,"t":140,"v":55},{"s":5,"t":150,"v":52},{"s":5,"t":160,"v":49},{"s":5,"t":170,"v":53},{"s":5,"t":180,"v":50},{"s":5,"t":190,"v":54},{"s":5,"t":200,"v":51},{"s":5,"t":210,"v":48},{"s":5,"t":220,"v":52},{"s":5,"t":230,"v":55},{"s":5,"t":240,"v":51},{"s":5,"t":250,"v":49},{"s":5,"t":260,"v":53},{"s":5,"t":270,"v":50},{"s":5,"t":280,"v":54},{"s":5,"t":290,"v":51},{"s":5,"t":300,"v":49},{"s":5,"t":310,"v":52},{"s":5,"t":320,"v":50},{"s":5,"t":330,"v":53},{"s":5,"t":340,"v":50},{"s":5,"t":350,"v":48},{"s":5,"t":360,"v":52},{"s":5,"t":370,"v":49},{"s":5,"t":380,"v":47},{"s":5,"t":387,"v":50},{"s":5,"t":389,"v":3},{"s":5,"t":393,"v":1},{"s":5,"t":398,"v":0},
{"s":6,"t":0,"v":0},{"s":6,"t":28,"v":0},{"s":6,"t":32,"v":15},{"s":6,"t":37,"v":48},{"s":6,"t":45,"v":50},{"s":6,"t":55,"v":52},{"s":6,"t":65,"v":49},{"s":6,"t":75,"v":53},{"s":6,"t":85,"v":50},{"s":6,"t":95,"v":48},{"s":6,"t":105,"v":51},{"s":6,"t":115,"v":54},{"s":6,"t":125,"v":50},{"s":6,"t":135,"v":47},{"s":6,"t":145,"v":51},{"s":6,"t":155,"v":49},{"s":6,"t":165,"v":52},{"s":6,"t":175,"v":50},{"s":6,"t":185,"v":48},{"s":6,"t":195,"v":51},{"s":6,"t":205,"v":53},{"s":6,"t":215,"v":50},{"s":6,"t":225,"v":47},{"s":6,"t":235,"v":50},{"s":6,"t":245,"v":53},{"s":6,"t":255,"v":51},{"s":6,"t":265,"v":48},{"s":6,"t":275,"v":50},{"s":6,"t":285,"v":49},{"s":6,"t":295,"v":47},{"s":6,"t":305,"v":50},{"s":6,"t":315,"v":48},{"s":6,"t":325,"v":50},{"s":6,"t":335,"v":49},{"s":6,"t":345,"v":51},{"s":6,"t":352,"v":48},{"s":6,"t":355,"v":20},{"s":6,"t":358,"v":21},{"s":6,"t":365,"v":17},{"s":6,"t":375,"v":16},{"s":6,"t":385,"v":15},{"s":6,"t":395,"v":16},{"s":6,"t":398,"v":8}
],
"E":[
{"s":0,"t":0,"v":0.3},{"s":0,"t":15,"v":0.3},{"s":0,"t":30,"v":0.5},{"s":0,"t":45,"v":0.4},{"s":0,"t":60,"v":0.6},{"s":0,"t":65,"v":1},{"s":0,"t":75,"v":7},{"s":0,"t":85,"v":13},{"s":0,"t":95,"v":18},{"s":0,"t":105,"v":20.5},{"s":0,"t":115,"v":21},{"s":0,"t":125,"v":21},{"s":0,"t":132,"v":21.5},{"s":0,"t":140,"v":23},{"s":0,"t":150,"v":25},{"s":0,"t":158,"v":25.8},{"s":0,"t":170,"v":26},{"s":0,"t":190,"v":25.5},{"s":0,"t":210,"v":25.8},{"s":0,"t":230,"v":25.5},{"s":0,"t":250,"v":25.6},{"s":0,"t":270,"v":25.3},{"s":0,"t":290,"v":25.5},{"s":0,"t":310,"v":25.2},{"s":0,"t":330,"v":25.4},{"s":0,"t":350,"v":25.0},{"s":0,"t":358,"v":24.5},{"s":0,"t":362,"v":15},{"s":0,"t":366,"v":6.8},{"s":0,"t":375,"v":6.8},{"s":0,"t":385,"v":6.8},{"s":0,"t":390,"v":6.5},{"s":0,"t":393,"v":0.5},{"s":0,"t":400,"v":0.3},
{"s":1,"t":0,"v":7},{"s":1,"t":10,"v":7.5},{"s":1,"t":20,"v":7.2},{"s":1,"t":30,"v":7.4},{"s":1,"t":35,"v":10},{"s":1,"t":45,"v":15},{"s":1,"t":55,"v":19},{"s":1,"t":65,"v":23},{"s":1,"t":75,"v":27},{"s":1,"t":85,"v":30},{"s":1,"t":95,"v":31},{"s":1,"t":105,"v":32},{"s":1,"t":115,"v":33},{"s":1,"t":125,"v":34},{"s":1,"t":135,"v":35},{"s":1,"t":140,"v":37},{"s":1,"t":145,"v":38},{"s":1,"t":150,"v":36},{"s":1,"t":160,"v":37},{"s":1,"t":175,"v":36.5},{"s":1,"t":190,"v":36},{"s":1,"t":205,"v":36.5},{"s":1,"t":220,"v":35.5},{"s":1,"t":230,"v":36},{"s":1,"t":235,"v":38},{"s":1,"t":240,"v":36},{"s":1,"t":255,"v":35},{"s":1,"t":270,"v":34.5},{"s":1,"t":290,"v":34},{"s":1,"t":310,"v":34},{"s":1,"t":330,"v":33.5},{"s":1,"t":350,"v":34},{"s":1,"t":370,"v":33.5},{"s":1,"t":390,"v":33},{"s":1,"t":398,"v":33},
{"s":2,"t":0,"v":0},{"s":2,"t":20,"v":0},{"s":2,"t":40,"v":1},{"s":2,"t":50,"v":4},{"s":2,"t":60,"v":10},{"s":2,"t":70,"v":15},{"s":2,"t":80,"v":19},{"s":2,"t":90,"v":22},{"s":2,"t":100,"v":25},{"s":2,"t":110,"v":26},{"s":2,"t":115,"v":22},{"s":2,"t":120,"v":27},{"s":2,"t":130,"v":24},{"s":2,"t":140,"v":28},{"s":2,"t":150,"v":27},{"s":2,"t":160,"v":28},{"s":2,"t":180,"v":27.5},{"s":2,"t":200,"v":28},{"s":2,"t":220,"v":27.5},{"s":2,"t":240,"v":27.8},{"s":2,"t":260,"v":27.4},{"s":2,"t":280,"v":27.6},{"s":2,"t":300,"v":27.3},{"s":2,"t":320,"v":27.5},{"s":2,"t":340,"v":27.2},{"s":2,"t":350,"v":27},{"s":2,"t":352,"v":12},{"s":2,"t":356,"v":10},{"s":2,"t":365,"v":9.5},{"s":2,"t":375,"v":9},{"s":2,"t":385,"v":9.5},{"s":2,"t":392,"v":9},{"s":2,"t":394,"v":0.5},{"s":2,"t":398,"v":0},
{"s":3,"t":0,"v":0},{"s":3,"t":30,"v":0},{"s":3,"t":40,"v":2},{"s":3,"t":55,"v":8},{"s":3,"t":70,"v":15},{"s":3,"t":85,"v":19},{"s":3,"t":95,"v":21},{"s":3,"t":105,"v":22},{"s":3,"t":115,"v":18},{"s":3,"t":125,"v":24},{"s":3,"t":135,"v":20},{"s":3,"t":145,"v":23},{"s":3,"t":160,"v":22.5},{"s":3,"t":180,"v":23},{"s":3,"t":200,"v":22.8},{"s":3,"t":220,"v":23.2},{"s":3,"t":240,"v":22.8},{"s":3,"t":260,"v":23},{"s":3,"t":280,"v":22.7},{"s":3,"t":300,"v":23},{"s":3,"t":320,"v":22.8},{"s":3,"t":340,"v":22.5},{"s":3,"t":345,"v":10},{"s":3,"t":348,"v":12},{"s":3,"t":360,"v":11},{"s":3,"t":370,"v":8},{"s":3,"t":380,"v":9},{"s":3,"t":390,"v":9},{"s":3,"t":396,"v":0},
{"s":4,"t":0,"v":0},{"s":4,"t":10,"v":2},{"s":4,"t":20,"v":1},{"s":4,"t":30,"v":3},{"s":4,"t":45,"v":6},{"s":4,"t":60,"v":12},{"s":4,"t":75,"v":17},{"s":4,"t":90,"v":21},{"s":4,"t":100,"v":24},{"s":4,"t":110,"v":20},{"s":4,"t":120,"v":23},{"s":4,"t":130,"v":21},{"s":4,"t":140,"v":24},{"s":4,"t":155,"v":25},{"s":4,"t":175,"v":24.5},{"s":4,"t":195,"v":25},{"s":4,"t":215,"v":24.7},{"s":4,"t":235,"v":25},{"s":4,"t":255,"v":24.8},{"s":4,"t":275,"v":25},{"s":4,"t":295,"v":24.7},{"s":4,"t":315,"v":25},{"s":4,"t":335,"v":24.6},{"s":4,"t":345,"v":24.8},{"s":4,"t":350,"v":18},{"s":4,"t":355,"v":22},{"s":4,"t":360,"v":24},{"s":4,"t":365,"v":16},{"s":4,"t":370,"v":9},{"s":4,"t":380,"v":8},{"s":4,"t":392,"v":7},{"s":4,"t":396,"v":0},
{"s":5,"t":0,"v":0.5},{"s":5,"t":50,"v":1},{"s":5,"t":60,"v":5},{"s":5,"t":75,"v":12},{"s":5,"t":90,"v":17},{"s":5,"t":100,"v":20},{"s":5,"t":110,"v":22},{"s":5,"t":118,"v":26},{"s":5,"t":125,"v":20},{"s":5,"t":135,"v":24},{"s":5,"t":150,"v":23.5},{"s":5,"t":175,"v":24},{"s":5,"t":200,"v":23.8},{"s":5,"t":225,"v":24},{"s":5,"t":250,"v":23.7},{"s":5,"t":275,"v":24},{"s":5,"t":300,"v":23.6},{"s":5,"t":325,"v":23.8},{"s":5,"t":350,"v":23.5},{"s":5,"t":362,"v":23},{"s":5,"t":364,"v":8},{"s":5,"t":372,"v":7},{"s":5,"t":385,"v":7},{"s":5,"t":395,"v":7.5},{"s":5,"t":398,"v":0}
],
"F":[
{"s":0,"t":0,"v":0},{"s":0,"t":20,"v":0},{"s":0,"t":40,"v":0.3},{"s":0,"t":60,"v":0.4},{"s":0,"t":75,"v":0.5},{"s":0,"t":82,"v":0.8},{"s":0,"t":90,"v":4},{"s":0,"t":100,"v":8},{"s":0,"t":110,"v":10.5},{"s":0,"t":120,"v":10.7},{"s":0,"t":130,"v":10.8},{"s":0,"t":140,"v":11},{"s":0,"t":146,"v":12},{"s":0,"t":152,"v":14},{"s":0,"t":160,"v":16},{"s":0,"t":175,"v":16.2},{"s":0,"t":190,"v":16},{"s":0,"t":210,"v":16.3},{"s":0,"t":230,"v":15.8},{"s":0,"t":250,"v":16.2},{"s":0,"t":270,"v":16},{"s":0,"t":290,"v":16.4},{"s":0,"t":310,"v":16},{"s":0,"t":330,"v":15.8},{"s":0,"t":350,"v":16.2},{"s":0,"t":370,"v":16},{"s":0,"t":385,"v":15.5},{"s":0,"t":392,"v":13},{"s":0,"t":398,"v":12},
{"s":1,"t":0,"v":8},{"s":1,"t":8,"v":8},{"s":1,"t":12,"v":0.5},{"s":1,"t":30,"v":0.5},{"s":1,"t":50,"v":1},{"s":1,"t":60,"v":5},{"s":1,"t":75,"v":12},{"s":1,"t":90,"v":17},{"s":1,"t":105,"v":20},{"s":1,"t":120,"v":21},{"s":1,"t":135,"v":22},{"s":1,"t":145,"v":22.5},{"s":1,"t":150,"v":23},{"s":1,"t":155,"v":26},{"s":1,"t":162,"v":28},{"s":1,"t":175,"v":28.5},{"s":1,"t":190,"v":28},{"s":1,"t":210,"v":28.2},{"s":1,"t":230,"v":27.8},{"s":1,"t":250,"v":28},{"s":1,"t":270,"v":27.5},{"s":1,"t":290,"v":27.6},{"s":1,"t":310,"v":27.3},{"s":1,"t":330,"v":27.5},{"s":1,"t":350,"v":27.2},{"s":1,"t":370,"v":27},{"s":1,"t":385,"v":27.2},{"s":1,"t":393,"v":26.5},{"s":1,"t":396,"v":6},
{"s":2,"t":0,"v":0},{"s":2,"t":40,"v":0},{"s":2,"t":55,"v":2},{"s":2,"t":70,"v":7},{"s":2,"t":85,"v":11},{"s":2,"t":100,"v":13},{"s":2,"t":110,"v":14},{"s":2,"t":120,"v":12},{"s":2,"t":130,"v":15},{"s":2,"t":140,"v":13},{"s":2,"t":150,"v":17},{"s":2,"t":160,"v":18.5},{"s":2,"t":175,"v":18},{"s":2,"t":190,"v":18.5},{"s":2,"t":210,"v":18},{"s":2,"t":230,"v":18.5},{"s":2,"t":250,"v":18.2},{"s":2,"t":270,"v":18.5},{"s":2,"t":290,"v":18},{"s":2,"t":310,"v":18.6},{"s":2,"t":330,"v":18.2},{"s":2,"t":350,"v":18.8},{"s":2,"t":370,"v":18.5},{"s":2,"t":390,"v":18},{"s":2,"t":396,"v":10},
{"s":3,"t":0,"v":0},{"s":3,"t":50,"v":0},{"s":3,"t":65,"v":4},{"s":3,"t":80,"v":9},{"s":3,"t":95,"v":12},{"s":3,"t":110,"v":13},{"s":3,"t":125,"v":11},{"s":3,"t":135,"v":14},{"s":3,"t":150,"v":12},{"s":3,"t":160,"v":15},{"s":3,"t":175,"v":16},{"s":3,"t":195,"v":15.5},{"s":3,"t":215,"v":16},{"s":3,"t":235,"v":15.5},{"s":3,"t":248,"v":15.5},{"s":3,"t":250,"v":5},{"s":3,"t":253,"v":15},{"s":3,"t":270,"v":15.5},{"s":3,"t":290,"v":16},{"s":3,"t":310,"v":15.2},{"s":3,"t":330,"v":15.8},{"s":3,"t":350,"v":15.5},{"s":3,"t":370,"v":14},{"s":3,"t":380,"v":15},{"s":3,"t":390,"v":14.5},{"s":3,"t":396,"v":7},
{"s":4,"t":0,"v":0},{"s":4,"t":60,"v":0},{"s":4,"t":75,"v":3},{"s":4,"t":90,"v":8},{"s":4,"t":105,"v":11},{"s":4,"t":120,"v":13},{"s":4,"t":135,"v":15},{"s":4,"t":145,"v":14},{"s":4,"t":155,"v":17},{"s":4,"t":170,"v":17.5},{"s":4,"t":190,"v":17},{"s":4,"t":210,"v":17.5},{"s":4,"t":230,"v":17},{"s":4,"t":250,"v":17.6},{"s":4,"t":265,"v":17},{"s":4,"t":280,"v":17.5},{"s":4,"t":300,"v":17},{"s":4,"t":320,"v":12},{"s":4,"t":325,"v":17},{"s":4,"t":340,"v":17.3},{"s":4,"t":360,"v":17},{"s":4,"t":380,"v":18},{"s":4,"t":395,"v":17},{"s":4,"t":398,"v":9},
{"s":5,"t":0,"v":0.5},{"s":5,"t":70,"v":0.5},{"s":5,"t":85,"v":5},{"s":5,"t":100,"v":9},{"s":5,"t":115,"v":12},{"s":5,"t":130,"v":14},{"s":5,"t":140,"v":9},{"s":5,"t":150,"v":16},{"s":5,"t":160,"v":14.5},{"s":5,"t":180,"v":15},{"s":5,"t":200,"v":14.8},{"s":5,"t":220,"v":15.2},{"s":5,"t":240,"v":14.7},{"s":5,"t":260,"v":15},{"s":5,"t":280,"v":14.6},{"s":5,"t":300,"v":15},{"s":5,"t":320,"v":14.8},{"s":5,"t":340,"v":15.2},{"s":5,"t":360,"v":14.6},{"s":5,"t":380,"v":15},{"s":5,"t":394,"v":14}
],
"G":[
{"s":0,"t":0,"v":0},{"s":0,"t":10,"v":0},{"s":0,"t":20,"v":0},{"s":0,"t":30,"v":0},{"s":0,"t":40,"v":1},{"s":0,"t":45,"v":25},{"s":0,"t":55,"v":70},{"s":0,"t":65,"v":120},{"s":0,"t":75,"v":170},{"s":0,"t":85,"v":215},{"s":0,"t":95,"v":260},{"s":0,"t":100,"v":255},{"s":0,"t":105,"v":250},{"s":0,"t":110,"v":252},{"s":0,"t":118,"v":246},{"s":0,"t":125,"v":245},{"s":0,"t":135,"v":242},{"s":0,"t":145,"v":243},{"s":0,"t":155,"v":240},{"s":0,"t":165,"v":241},{"s":0,"t":175,"v":238},{"s":0,"t":185,"v":239},{"s":0,"t":195,"v":237},{"s":0,"t":205,"v":238},{"s":0,"t":215,"v":236},{"s":0,"t":225,"v":237},{"s":0,"t":235,"v":235},{"s":0,"t":245,"v":236},{"s":0,"t":255,"v":234},{"s":0,"t":265,"v":233},{"s":0,"t":275,"v":235},{"s":0,"t":285,"v":232},{"s":0,"t":295,"v":230},{"s":0,"t":300,"v":231},{"s":0,"t":303,"v":220},{"s":0,"t":306,"v":205},{"s":0,"t":309,"v":215},{"s":0,"t":312,"v":190},{"s":0,"t":315,"v":200},{"s":0,"t":318,"v":185},{"s":0,"t":322,"v":193},{"s":0,"t":326,"v":190},{"s":0,"t":330,"v":188},{"s":0,"t":333,"v":100},{"s":0,"t":336,"v":-2},{"s":0,"t":345,"v":-3},{"s":0,"t":350,"v":-6},{"s":0,"t":360,"v":-6},{"s":0,"t":370,"v":-5},{"s":0,"t":380,"v":-6},{"s":0,"t":390,"v":-7},{"s":0,"t":400,"v":-7},
{"s":1,"t":0,"v":85},{"s":1,"t":8,"v":100},{"s":1,"t":15,"v":115},{"s":1,"t":22,"v":140},{"s":1,"t":30,"v":160},{"s":1,"t":38,"v":180},{"s":1,"t":45,"v":200},{"s":1,"t":55,"v":215},{"s":1,"t":65,"v":230},{"s":1,"t":75,"v":240},{"s":1,"t":85,"v":255},{"s":1,"t":95,"v":262},{"s":1,"t":110,"v":260},{"s":1,"t":125,"v":262},{"s":1,"t":140,"v":258},{"s":1,"t":160,"v":260},{"s":1,"t":180,"v":257},{"s":1,"t":200,"v":255},{"s":1,"t":220,"v":258},{"s":1,"t":240,"v":260},{"s":1,"t":260,"v":255},{"s":1,"t":280,"v":258},{"s":1,"t":300,"v":262},{"s":1,"t":320,"v":266},{"s":1,"t":335,"v":264},{"s":1,"t":350,"v":262},{"s":1,"t":360,"v":258},{"s":1,"t":368,"v":255},{"s":1,"t":372,"v":5},{"s":1,"t":380,"v":-5},{"s":1,"t":390,"v":-6},{"s":1,"t":398,"v":-6},
{"s":2,"t":0,"v":5},{"s":2,"t":20,"v":8},{"s":2,"t":30,"v":10},{"s":2,"t":40,"v":40},{"s":2,"t":55,"v":110},{"s":2,"t":70,"v":180},{"s":2,"t":85,"v":250},{"s":2,"t":95,"v":265},{"s":2,"t":110,"v":262},{"s":2,"t":125,"v":260},{"s":2,"t":131,"v":258},{"s":2,"t":133,"v":205},{"s":2,"t":145,"v":200},{"s":2,"t":160,"v":205},{"s":2,"t":180,"v":202},{"s":2,"t":200,"v":208},{"s":2,"t":220,"v":205},{"s":2,"t":240,"v":200},{"s":2,"t":260,"v":203},{"s":2,"t":280,"v":198},{"s":2,"t":300,"v":200},{"s":2,"t":320,"v":195},{"s":2,"t":328,"v":198},{"s":2,"t":331,"v":-5},{"s":2,"t":340,"v":-6},{"s":2,"t":355,"v":-5},{"s":2,"t":370,"v":-6},{"s":2,"t":385,"v":-7},{"s":2,"t":398,"v":-7},
{"s":3,"t":0,"v":0},{"s":3,"t":50,"v":0},{"s":3,"t":60,"v":40},{"s":3,"t":70,"v":90},{"s":3,"t":80,"v":130},{"s":3,"t":85,"v":140},{"s":3,"t":95,"v":135},{"s":3,"t":110,"v":132},{"s":3,"t":130,"v":128},{"s":3,"t":150,"v":130},{"s":3,"t":170,"v":128},{"s":3,"t":190,"v":132},{"s":3,"t":210,"v":130},{"s":3,"t":230,"v":128},{"s":3,"t":250,"v":131},{"s":3,"t":270,"v":130},{"s":3,"t":290,"v":132},{"s":3,"t":305,"v":130},{"s":3,"t":308,"v":-5},{"s":3,"t":320,"v":-6},{"s":3,"t":340,"v":-5},{"s":3,"t":360,"v":-6},{"s":3,"t":380,"v":-6},{"s":3,"t":398,"v":-7},
{"s":4,"t":0,"v":0},{"s":4,"t":55,"v":0},{"s":4,"t":65,"v":50},{"s":4,"t":80,"v":130},{"s":4,"t":95,"v":230},{"s":4,"t":105,"v":255},{"s":4,"t":120,"v":250},{"s":4,"t":140,"v":245},{"s":4,"t":160,"v":248},{"s":4,"t":180,"v":243},{"s":4,"t":200,"v":246},{"s":4,"t":210,"v":244},{"s":4,"t":212,"v":-5},{"s":4,"t":225,"v":-6},{"s":4,"t":240,"v":-5},{"s":4,"t":260,"v":-6},{"s":4,"t":280,"v":-6},{"s":4,"t":300,"v":-5},{"s":4,"t":320,"v":-6},{"s":4,"t":340,"v":-7},{"s":4,"t":360,"v":-6},{"s":4,"t":380,"v":-7},{"s":4,"t":398,"v":-7},
{"s":5,"t":0,"v":0},{"s":5,"t":50,"v":0},{"s":5,"t":60,"v":30},{"s":5,"t":75,"v":110},{"s":5,"t":90,"v":200},{"s":5,"t":100,"v":250},{"s":5,"t":115,"v":245},{"s":5,"t":135,"v":240},{"s":5,"t":155,"v":235},{"s":5,"t":175,"v":238},{"s":5,"t":195,"v":232},{"s":5,"t":215,"v":235},{"s":5,"t":235,"v":230},{"s":5,"t":250,"v":233},{"s":5,"t":256,"v":230},{"s":5,"t":258,"v":190},{"s":5,"t":260,"v":180},{"s":5,"t":270,"v":175},{"s":5,"t":280,"v":160},{"s":5,"t":290,"v":160},{"s":5,"t":296,"v":158},{"s":5,"t":298,"v":-5},{"s":5,"t":310,"v":-6},{"s":5,"t":330,"v":-6},{"s":5,"t":350,"v":-5},{"s":5,"t":370,"v":-6},{"s":5,"t":390,"v":-7},
{"s":6,"t":0,"v":0},{"s":6,"t":45,"v":0},{"s":6,"t":55,"v":50},{"s":6,"t":70,"v":150},{"s":6,"t":85,"v":240},{"s":6,"t":95,"v":262},{"s":6,"t":110,"v":258},{"s":6,"t":130,"v":252},{"s":6,"t":150,"v":254},{"s":6,"t":170,"v":250},{"s":6,"t":190,"v":253},{"s":6,"t":210,"v":249},{"s":6,"t":230,"v":251},{"s":6,"t":250,"v":248},{"s":6,"t":270,"v":250},{"s":6,"t":278,"v":247},{"s":6,"t":280,"v":-5},{"s":6,"t":300,"v":-6},{"s":6,"t":330,"v":-6},{"s":6,"t":350,"v":-6},{"s":6,"t":370,"v":-6},{"s":6,"t":398,"v":-6},
{"s":7,"t":0,"v":0},{"s":7,"t":40,"v":0},{"s":7,"t":50,"v":30},{"s":7,"t":65,"v":120},{"s":7,"t":80,"v":210},{"s":7,"t":90,"v":250},{"s":7,"t":105,"v":248},{"s":7,"t":125,"v":250},{"s":7,"t":145,"v":247},{"s":7,"t":165,"v":250},{"s":7,"t":185,"v":246},{"s":7,"t":205,"v":249},{"s":7,"t":225,"v":245},{"s":7,"t":245,"v":248},{"s":7,"t":265,"v":244},{"s":7,"t":285,"v":246},{"s":7,"t":305,"v":243},{"s":7,"t":320,"v":240},{"s":7,"t":322,"v":100},{"s":7,"t":330,"v":95},{"s":7,"t":345,"v":90},{"s":7,"t":355,"v":92},{"s":7,"t":357,"v":-5},{"s":7,"t":370,"v":-6},{"s":7,"t":398,"v":-7},
{"s":8,"t":0,"v":0},{"s":8,"t":48,"v":0},{"s":8,"t":60,"v":70},{"s":8,"t":75,"v":170},{"s":8,"t":90,"v":245},{"s":8,"t":105,"v":250},{"s":8,"t":125,"v":246},{"s":8,"t":145,"v":249},{"s":8,"t":165,"v":245},{"s":8,"t":185,"v":248},{"s":8,"t":205,"v":244},{"s":8,"t":225,"v":247},{"s":8,"t":245,"v":243},{"s":8,"t":265,"v":246},{"s":8,"t":285,"v":242},{"s":8,"t":305,"v":244},{"s":8,"t":325,"v":240},{"s":8,"t":345,"v":243},{"s":8,"t":360,"v":240},{"s":8,"t":375,"v":238},{"s":8,"t":385,"v":236},{"s":8,"t":388,"v":190},{"s":8,"t":392,"v":30},{"s":8,"t":395,"v":-5},
{"s":9,"t":0,"v":0},{"s":9,"t":50,"v":0},{"s":9,"t":62,"v":60},{"s":9,"t":78,"v":170},{"s":9,"t":92,"v":250},{"s":9,"t":110,"v":255},{"s":9,"t":130,"v":250},{"s":9,"t":150,"v":252},{"s":9,"t":170,"v":249},{"s":9,"t":190,"v":252},{"s":9,"t":210,"v":248},{"s":9,"t":230,"v":250},{"s":9,"t":250,"v":247},{"s":9,"t":270,"v":250},{"s":9,"t":290,"v":246},{"s":9,"t":305,"v":248},{"s":9,"t":310,"v":247},{"s":9,"t":313,"v":55},{"s":9,"t":330,"v":45},{"s":9,"t":350,"v":42},{"s":9,"t":370,"v":44},{"s":9,"t":385,"v":45},{"s":9,"t":390,"v":40},{"s":9,"t":394,"v":0},{"s":9,"t":398,"v":-5}
],
"H":[
{"s":0,"t":0,"v":5},{"s":0,"t":10,"v":9},{"s":0,"t":20,"v":13},{"s":0,"t":30,"v":17},{"s":0,"t":40,"v":22},{"s":0,"t":50,"v":27},{"s":0,"t":60,"v":32},{"s":0,"t":70,"v":38},{"s":0,"t":80,"v":44},{"s":0,"t":90,"v":49},{"s":0,"t":100,"v":54},{"s":0,"t":110,"v":59},{"s":0,"t":120,"v":65},{"s":0,"t":130,"v":70},{"s":0,"t":140,"v":74},{"s":0,"t":150,"v":79},{"s":0,"t":160,"v":84},{"s":0,"t":170,"v":90},{"s":0,"t":180,"v":96},{"s":0,"t":188,"v":104},{"s":0,"t":192,"v":106},{"s":0,"t":196,"v":102},{"s":0,"t":200,"v":108},{"s":0,"t":210,"v":112},{"s":0,"t":220,"v":118},{"s":0,"t":230,"v":124},{"s":0,"t":240,"v":128},{"s":0,"t":245,"v":131},{"s":0,"t":250,"v":129},{"s":0,"t":260,"v":128},{"s":0,"t":270,"v":127},{"s":0,"t":280,"v":127},{"s":0,"t":290,"v":126},{"s":0,"t":300,"v":125},{"s":0,"t":310,"v":125},{"s":0,"t":320,"v":124},{"s":0,"t":330,"v":124},{"s":0,"t":340,"v":123},{"s":0,"t":350,"v":123},{"s":0,"t":360,"v":122},{"s":0,"t":370,"v":122},{"s":0,"t":380,"v":121},{"s":0,"t":390,"v":120},{"s":0,"t":395,"v":118},{"s":0,"t":400,"v":112},
{"s":1,"t":0,"v":38},{"s":1,"t":5,"v":40},{"s":1,"t":15,"v":44},{"s":1,"t":25,"v":50},{"s":1,"t":35,"v":56},{"s":1,"t":45,"v":62},{"s":1,"t":55,"v":75},{"s":1,"t":65,"v":95},{"s":1,"t":72,"v":115},{"s":1,"t":78,"v":125},{"s":1,"t":85,"v":95},{"s":1,"t":90,"v":90},{"s":1,"t":98,"v":105},{"s":1,"t":105,"v":120},{"s":1,"t":112,"v":110},{"s":1,"t":118,"v":125},{"s":1,"t":125,"v":140},{"s":1,"t":132,"v":128},{"s":1,"t":140,"v":145},{"s":1,"t":150,"v":142},{"s":1,"t":160,"v":148},{"s":1,"t":170,"v":145},{"s":1,"t":180,"v":150},{"s":1,"t":190,"v":147},{"s":1,"t":200,"v":150},{"s":1,"t":210,"v":148},{"s":1,"t":220,"v":152},{"s":1,"t":230,"v":149},{"s":1,"t":240,"v":145},{"s":1,"t":250,"v":140},{"s":1,"t":260,"v":138},{"s":1,"t":270,"v":135},{"s":1,"t":280,"v":140},{"s":1,"t":290,"v":133},{"s":1,"t":300,"v":137},{"s":1,"t":310,"v":130},{"s":1,"t":320,"v":135},{"s":1,"t":330,"v":128},{"s":1,"t":340,"v":133},{"s":1,"t":350,"v":127},{"s":1,"t":360,"v":132},{"s":1,"t":370,"v":126},{"s":1,"t":380,"v":130},{"s":1,"t":390,"v":125},{"s":1,"t":396,"v":124},{"s":1,"t":398,"v":0},
{"s":2,"t":0,"v":20},{"s":2,"t":20,"v":30},{"s":2,"t":40,"v":40},{"s":2,"t":60,"v":52},{"s":2,"t":80,"v":62},{"s":2,"t":100,"v":75},{"s":2,"t":120,"v":88},{"s":2,"t":140,"v":100},{"s":2,"t":150,"v":115},{"s":2,"t":160,"v":135},{"s":2,"t":165,"v":140},{"s":2,"t":175,"v":138},{"s":2,"t":185,"v":142},{"s":2,"t":195,"v":140},{"s":2,"t":205,"v":141},{"s":2,"t":215,"v":139},{"s":2,"t":225,"v":143},{"s":2,"t":235,"v":140},{"s":2,"t":245,"v":137},{"s":2,"t":255,"v":142},{"s":2,"t":265,"v":138},{"s":2,"t":275,"v":135},{"s":2,"t":285,"v":139},{"s":2,"t":295,"v":134},{"s":2,"t":305,"v":137},{"s":2,"t":315,"v":132},{"s":2,"t":325,"v":136},{"s":2,"t":335,"v":130},{"s":2,"t":345,"v":134},{"s":2,"t":355,"v":128},{"s":2,"t":365,"v":132},{"s":2,"t":375,"v":127},{"s":2,"t":385,"v":130},{"s":2,"t":395,"v":126},
{"s":3,"t":0,"v":0},{"s":3,"t":20,"v":4},{"s":3,"t":40,"v":10},{"s":3,"t":60,"v":18},{"s":3,"t":80,"v":28},{"s":3,"t":100,"v":40},{"s":3,"t":120,"v":52},{"s":3,"t":130,"v":62},{"s":3,"t":140,"v":58},{"s":3,"t":150,"v":68},{"s":3,"t":160,"v":74},{"s":3,"t":170,"v":80},{"s":3,"t":180,"v":88},{"s":3,"t":190,"v":98},{"s":3,"t":200,"v":110},{"s":3,"t":210,"v":118},{"s":3,"t":220,"v":125},{"s":3,"t":230,"v":130},{"s":3,"t":240,"v":133},{"s":3,"t":250,"v":135},{"s":3,"t":260,"v":132},{"s":3,"t":270,"v":128},{"s":3,"t":280,"v":125},{"s":3,"t":290,"v":122},{"s":3,"t":300,"v":120},{"s":3,"t":310,"v":118},{"s":3,"t":320,"v":120},{"s":3,"t":330,"v":117},{"s":3,"t":340,"v":119},{"s":3,"t":350,"v":116},{"s":3,"t":360,"v":118},{"s":3,"t":370,"v":115},{"s":3,"t":380,"v":117},{"s":3,"t":390,"v":114},{"s":3,"t":396,"v":115},
{"s":4,"t":0,"v":2},{"s":4,"t":25,"v":6},{"s":4,"t":50,"v":14},{"s":4,"t":75,"v":24},{"s":4,"t":100,"v":36},{"s":4,"t":115,"v":45},{"s":4,"t":125,"v":40},{"s":4,"t":135,"v":55},{"s":4,"t":145,"v":50},{"s":4,"t":155,"v":62},{"s":4,"t":170,"v":72},{"s":4,"t":185,"v":85},{"s":4,"t":200,"v":100},{"s":4,"t":215,"v":112},{"s":4,"t":230,"v":122},{"s":4,"t":245,"v":130},{"s":4,"t":260,"v":128},{"s":4,"t":280,"v":126},{"s":4,"t":300,"v":124},{"s":4,"t":320,"v":125},{"s":4,"t":340,"v":122},{"s":4,"t":360,"v":121},{"s":4,"t":380,"v":119},{"s":4,"t":395,"v":118},
{"s":5,"t":0,"v":10},{"s":5,"t":30,"v":20},{"s":5,"t":60,"v":30},{"s":5,"t":90,"v":45},{"s":5,"t":110,"v":55},{"s":5,"t":125,"v":65},{"s":5,"t":135,"v":60},{"s":5,"t":150,"v":70},{"s":5,"t":165,"v":80},{"s":5,"t":180,"v":90},{"s":5,"t":195,"v":100},{"s":5,"t":210,"v":115},{"s":5,"t":225,"v":125},{"s":5,"t":240,"v":132},{"s":5,"t":255,"v":128},{"s":5,"t":270,"v":124},{"s":5,"t":285,"v":121},{"s":5,"t":300,"v":118},{"s":5,"t":315,"v":115},{"s":5,"t":330,"v":117},{"s":5,"t":345,"v":114},{"s":5,"t":360,"v":116},{"s":5,"t":375,"v":113},{"s":5,"t":390,"v":115},{"s":5,"t":396,"v":110},{"s":5,"t":399,"v":20}
],
"I":[
{"s":0,"t":0,"v":1},{"s":0,"t":20,"v":1.5},{"s":0,"t":40,"v":3},{"s":0,"t":55,"v":5},{"s":0,"t":70,"v":9},{"s":0,"t":85,"v":13},{"s":0,"t":100,"v":17},{"s":0,"t":115,"v":20},{"s":0,"t":130,"v":24},{"s":0,"t":145,"v":28},{"s":0,"t":160,"v":33},{"s":0,"t":175,"v":38},{"s":0,"t":190,"v":44},{"s":0,"t":205,"v":51},{"s":0,"t":215,"v":56},{"s":0,"t":225,"v":63},{"s":0,"t":235,"v":71},{"s":0,"t":242,"v":77},{"s":0,"t":250,"v":76},{"s":0,"t":260,"v":75},{"s":0,"t":270,"v":74.5},{"s":0,"t":285,"v":74},{"s":0,"t":300,"v":73.5},{"s":0,"t":320,"v":72.5},{"s":0,"t":340,"v":72},{"s":0,"t":360,"v":71.5},{"s":0,"t":380,"v":71},{"s":0,"t":395,"v":70.5},{"s":0,"t":400,"v":70},
{"s":1,"t":0,"v":3},{"s":1,"t":20,"v":8},{"s":1,"t":40,"v":12},{"s":1,"t":55,"v":16},{"s":1,"t":70,"v":25},{"s":1,"t":80,"v":22},{"s":1,"t":90,"v":30},{"s":1,"t":100,"v":36},{"s":1,"t":108,"v":48},{"s":1,"t":114,"v":40},{"s":1,"t":122,"v":52},{"s":1,"t":130,"v":63},{"s":1,"t":138,"v":58},{"s":1,"t":150,"v":66},{"s":1,"t":165,"v":72},{"s":1,"t":180,"v":78},{"s":1,"t":195,"v":82},{"s":1,"t":210,"v":87},{"s":1,"t":220,"v":90},{"s":1,"t":230,"v":88},{"s":1,"t":240,"v":85},{"s":1,"t":250,"v":92},{"s":1,"t":260,"v":95},{"s":1,"t":270,"v":88},{"s":1,"t":280,"v":90},{"s":1,"t":290,"v":96},{"s":1,"t":300,"v":93},{"s":1,"t":310,"v":87},{"s":1,"t":320,"v":95},{"s":1,"t":330,"v":92},{"s":1,"t":340,"v":97},{"s":1,"t":350,"v":90},{"s":1,"t":360,"v":94},{"s":1,"t":370,"v":88},{"s":1,"t":380,"v":93},{"s":1,"t":390,"v":89},{"s":1,"t":396,"v":91},
{"s":2,"t":0,"v":0},{"s":2,"t":30,"v":3},{"s":2,"t":60,"v":8},{"s":2,"t":90,"v":15},{"s":2,"t":120,"v":25},{"s":2,"t":150,"v":35},{"s":2,"t":175,"v":48},{"s":2,"t":200,"v":62},{"s":2,"t":215,"v":72},{"s":2,"t":225,"v":80},{"s":2,"t":235,"v":88},{"s":2,"t":245,"v":90},{"s":2,"t":255,"v":85},{"s":2,"t":265,"v":88},{"s":2,"t":275,"v":84},{"s":2,"t":285,"v":87},{"s":2,"t":295,"v":83},{"s":2,"t":305,"v":86},{"s":2,"t":315,"v":82},{"s":2,"t":325,"v":84},{"s":2,"t":335,"v":80},{"s":2,"t":345,"v":83},{"s":2,"t":355,"v":79},{"s":2,"t":365,"v":82},{"s":2,"t":375,"v":78},{"s":2,"t":385,"v":80},{"s":2,"t":395,"v":77},
{"s":3,"t":0,"v":0},{"s":3,"t":40,"v":2},{"s":3,"t":80,"v":6},{"s":3,"t":120,"v":12},{"s":3,"t":160,"v":22},{"s":3,"t":190,"v":32},{"s":3,"t":210,"v":42},{"s":3,"t":225,"v":50},{"s":3,"t":235,"v":60},{"s":3,"t":240,"v":66},{"s":3,"t":250,"v":58},{"s":3,"t":260,"v":57},{"s":3,"t":270,"v":56},{"s":3,"t":280,"v":58},{"s":3,"t":290,"v":55},{"s":3,"t":300,"v":57},{"s":3,"t":310,"v":54},{"s":3,"t":320,"v":56},{"s":3,"t":330,"v":53},{"s":3,"t":340,"v":55},{"s":3,"t":350,"v":52},{"s":3,"t":360,"v":54},{"s":3,"t":370,"v":51},{"s":3,"t":380,"v":53},{"s":3,"t":390,"v":50},{"s":3,"t":396,"v":52},{"s":3,"t":398,"v":0},
{"s":4,"t":0,"v":0},{"s":4,"t":40,"v":4},{"s":4,"t":70,"v":10},{"s":4,"t":100,"v":18},{"s":4,"t":130,"v":28},{"s":4,"t":155,"v":38},{"s":4,"t":175,"v":48},{"s":4,"t":195,"v":58},{"s":4,"t":210,"v":68},{"s":4,"t":222,"v":78},{"s":4,"t":230,"v":85},{"s":4,"t":240,"v":82},{"s":4,"t":250,"v":86},{"s":4,"t":260,"v":80},{"s":4,"t":270,"v":84},{"s":4,"t":280,"v":79},{"s":4,"t":290,"v":83},{"s":4,"t":300,"v":78},{"s":4,"t":310,"v":82},{"s":4,"t":320,"v":77},{"s":4,"t":330,"v":81},{"s":4,"t":340,"v":76},{"s":4,"t":350,"v":80},{"s":4,"t":360,"v":75},{"s":4,"t":370,"v":79},{"s":4,"t":380,"v":74},{"s":4,"t":390,"v":78},{"s":4,"t":396,"v":76},
{"s":5,"t":0,"v":0},{"s":5,"t":50,"v":2},{"s":5,"t":100,"v":8},{"s":5,"t":140,"v":15},{"s":5,"t":170,"v":22},{"s":5,"t":195,"v":30},{"s":5,"t":215,"v":40},{"s":5,"t":230,"v":52},{"s":5,"t":240,"v":62},{"s":5,"t":246,"v":72},{"s":5,"t":255,"v":70},{"s":5,"t":265,"v":68},{"s":5,"t":280,"v":70},{"s":5,"t":295,"v":67},{"s":5,"t":310,"v":69},{"s":5,"t":325,"v":66},{"s":5,"t":340,"v":68},{"s":5,"t":355,"v":65},{"s":5,"t":370,"v":67},{"s":5,"t":385,"v":64},{"s":5,"t":396,"v":66}
]
},
"columns":3,
"spacing":{"row":25,"column":20},
"concat":[
{"width":172,"height":155,"title":"Leading edge","data":{"name":"A"},"layer":[
{"transform":[{"filter":"datum.s>0"}],"mark":{"type":"line","color":"#bfbfbf","strokeWidth":1},"encoding":{"x":{"field":"t","type":"quantitative","scale":{"domain":[-15,418],"nice":false,"zero":false},"axis":null},"y":{"field":"v","type":"quantitative","scale":{"domain":[-10.6,4.5],"nice":false,"zero":false},"axis":{"values":[-10,-8,-6,-4,-2,0,2,4],"title":"Loading force (μN)","titleOpacity":0,"labelExpr":"replace(datum.label,'−','-')"}},"detail":{"field":"s"}}},
{"data":{"values":[{}]},"mark":{"type":"rule","color":"#ff0000","strokeDash":[2,2.5],"strokeWidth":2},"encoding":{"y":{"datum":1.92,"axis":{"values":[-10,-8,-6,-4,-2,0,2,4],"title":"Loading force (μN)","titleOpacity":0,"labelExpr":"replace(datum.label,'−','-')"}}}},
{"data":{"values":[{}]},"mark":{"type":"rule","color":"#000","strokeDash":[2,2.5],"strokeWidth":2},"encoding":{"y":{"datum":0,"axis":{"values":[-10,-8,-6,-4,-2,0,2,4],"title":"Loading force (μN)","titleOpacity":0,"labelExpr":"replace(datum.label,'−','-')"}}}},
{"transform":[{"filter":"datum.s==0"}],"mark":{"type":"line","color":"#ff0000","strokeWidth":2},"encoding":{"x":{"field":"t","type":"quantitative","axis":null},"y":{"field":"v","type":"quantitative","axis":{"values":[-10,-8,-6,-4,-2,0,2,4],"title":"Loading force (μN)","titleOpacity":0,"labelExpr":"replace(datum.label,'−','-')"}}}},
{"data":{"values":[{}]},"mark":{"type":"rule","color":"#000","strokeWidth":1.6},"encoding":{"x":{"datum":196,"axis":null},"y":{"datum":4.2,"axis":{"values":[-10,-8,-6,-4,-2,0,2,4],"title":"Loading force (μN)","titleOpacity":0,"labelExpr":"replace(datum.label,'−','-')"}},"y2":{"datum":3.1}}},
{"data":{"values":[{}]},"mark":{"type":"point","shape":"triangle-down","filled":true,"color":"#000","opacity":1,"size":50},"encoding":{"x":{"datum":196,"axis":null},"y":{"datum":2.9,"axis":{"values":[-10,-8,-6,-4,-2,0,2,4],"title":"Loading force (μN)","titleOpacity":0,"labelExpr":"replace(datum.label,'−','-')"}}}},
{"data":{"values":[{}]},"mark":{"type":"text","text":"A","fontWeight":"bold","fontSize":23,"align":"left","baseline":"alphabetic"},"encoding":{"x":{"datum":-3,"axis":null},"y":{"datum":2.2,"axis":{"values":[-10,-8,-6,-4,-2,0,2,4],"title":"Loading force (μN)","titleOpacity":0,"labelExpr":"replace(datum.label,'−','-')"}}}},
{"data":{"values":[{}]},"mark":{"type":"text","text":"N","fontStyle":"italic","fontSize":14.5,"align":"right","baseline":"middle"},"encoding":{"x":{"datum":58,"axis":null},"y":{"datum":-8.7,"axis":{"values":[-10,-8,-6,-4,-2,0,2,4],"title":"Loading force (μN)","titleOpacity":0,"labelExpr":"replace(datum.label,'−','-')"}}}},
{"data":{"values":[{}]},"mark":{"type":"text","text":"=9","fontSize":14.5,"align":"left","baseline":"middle"},"encoding":{"x":{"datum":58,"axis":null},"y":{"datum":-8.7,"axis":{"values":[-10,-8,-6,-4,-2,0,2,4],"title":"Loading force (μN)","titleOpacity":0,"labelExpr":"replace(datum.label,'−','-')"}}}}
]},
{"width":172,"height":155,"title":"Wing tip","data":{"name":"B"},"layer":[
{"transform":[{"filter":"datum.s>0"}],"mark":{"type":"line","color":"#bfbfbf","strokeWidth":1},"encoding":{"x":{"field":"t","type":"quantitative","scale":{"domain":[-15,418],"nice":false,"zero":false},"axis":null},"y":{"field":"v","type":"quantitative","scale":{"domain":[-10.6,4.5],"nice":false,"zero":false},"axis":null},"detail":{"field":"s"}}},
{"data":{"values":[{}]},"mark":{"type":"rule","color":"#ff0000","strokeDash":[2,2.5],"strokeWidth":2},"encoding":{"y":{"datum":0.85,"axis":null}}},
{"data":{"values":[{}]},"mark":{"type":"rule","color":"#000","strokeDash":[2,2.5],"strokeWidth":2},"encoding":{"y":{"datum":0,"axis":null}}},
{"transform":[{"filter":"datum.s==0"}],"mark":{"type":"line","color":"#ff0000","strokeWidth":2},"encoding":{"x":{"field":"t","type":"quantitative","axis":null},"y":{"field":"v","type":"quantitative","axis":null}}},
{"data":{"values":[{}]},"mark":{"type":"rule","color":"#000","strokeWidth":1.6},"encoding":{"x":{"datum":231,"axis":null},"y":{"datum":3.1,"axis":null},"y2":{"datum":2.1}}},
{"data":{"values":[{}]},"mark":{"type":"point","shape":"triangle-down","filled":true,"color":"#000","opacity":1,"size":50},"encoding":{"x":{"datum":231,"axis":null},"y":{"datum":1.85,"axis":null}}},
{"data":{"values":[{}]},"mark":{"type":"text","text":"B","fontWeight":"bold","fontSize":23,"align":"left","baseline":"alphabetic"},"encoding":{"x":{"datum":-3,"axis":null},"y":{"datum":2.2,"axis":null}}},
{"data":{"values":[{}]},"mark":{"type":"text","text":"N","fontStyle":"italic","fontSize":14.5,"align":"right","baseline":"middle"},"encoding":{"x":{"datum":53,"axis":null},"y":{"datum":-8.8,"axis":null}}},
{"data":{"values":[{}]},"mark":{"type":"text","text":"=8","fontSize":14.5,"align":"left","baseline":"middle"},"encoding":{"x":{"datum":53,"axis":null},"y":{"datum":-8.8,"axis":null}}},
{"data":{"values":[{}]},"mark":{"type":"text","text":"Drosophila","fontStyle":"italic","fontSize":14.5,"align":"left","baseline":"middle"},"encoding":{"x":{"datum":224,"axis":null},"y":{"datum":-8.8,"axis":null}}}
]},
{"width":172,"height":155,"title":"Trailing edge","data":{"name":"C"},"layer":[
{"transform":[{"filter":"datum.s>0"}],"mark":{"type":"line","color":"#bfbfbf","strokeWidth":1},"encoding":{"x":{"field":"t","type":"quantitative","scale":{"domain":[-15,418],"nice":false,"zero":false},"axis":null},"y":{"field":"v","type":"quantitative","scale":{"domain":[-10.6,4.5],"nice":false,"zero":false},"axis":null},"detail":{"field":"s"}}},
{"data":{"values":[{}]},"mark":{"type":"rule","color":"#ff0000","strokeDash":[2,2.5],"strokeWidth":2},"encoding":{"y":{"datum":0.68,"axis":null}}},
{"data":{"values":[{}]},"mark":{"type":"rule","color":"#000","strokeDash":[2,2.5],"strokeWidth":2},"encoding":{"y":{"datum":0,"axis":null}}},
{"transform":[{"filter":"datum.s==0"}],"mark":{"type":"line","color":"#ff0000","strokeWidth":2},"encoding":{"x":{"field":"t","type":"quantitative","axis":null},"y":{"field":"v","type":"quantitative","axis":null}}},
{"data":{"values":[{}]},"mark":{"type":"rule","color":"#000","strokeWidth":1.6},"encoding":{"x":{"datum":174,"axis":null},"y":{"datum":3.4,"axis":null},"y2":{"datum":2.6}}},
{"data":{"values":[{}]},"mark":{"type":"point","shape":"triangle-down","filled":true,"color":"#000","opacity":1,"size":50},"encoding":{"x":{"datum":174,"axis":null},"y":{"datum":2.35,"axis":null}}},
{"data":{"values":[{}]},"mark":{"type":"text","text":"C","fontWeight":"bold","fontSize":23,"align":"left","baseline":"alphabetic"},"encoding":{"x":{"datum":-3,"axis":null},"y":{"datum":2.2,"axis":null}}},
{"data":{"values":[{}]},"mark":{"type":"text","text":"N","fontStyle":"italic","fontSize":14.5,"align":"right","baseline":"middle"},"encoding":{"x":{"datum":48,"axis":null},"y":{"datum":-8.9,"axis":null}}},
{"data":{"values":[{}]},"mark":{"type":"text","text":"=4","fontSize":14.5,"align":"left","baseline":"middle"},"encoding":{"x":{"datum":48,"axis":null},"y":{"datum":-8.9,"axis":null}}}
]},
{"width":172,"height":155,"data":{"name":"D"},"layer":[
{"transform":[{"filter":"datum.s>0"}],"mark":{"type":"line","color":"#bfbfbf","strokeWidth":1},"encoding":{"x":{"field":"t","type":"quantitative","scale":{"domain":[-15,418],"nice":false,"zero":false},"axis":null},"y":{"field":"v","type":"quantitative","scale":{"domain":[-6.3,69.3],"nice":false,"zero":false},"axis":{"values":[0,10,20,30,40,50,60],"title":"Loading force (μN)"}},"detail":{"field":"s"}}},
{"data":{"values":[{}]},"mark":{"type":"rule","color":"#ff0000","strokeDash":[2,2.5],"strokeWidth":2},"encoding":{"y":{"datum":46.5,"axis":{"values":[0,10,20,30,40,50,60],"title":"Loading force (μN)"}}}},
{"data":{"values":[{}]},"mark":{"type":"rule","color":"#000","strokeDash":[2,2.5],"strokeWidth":2},"encoding":{"y":{"datum":0,"axis":{"values":[0,10,20,30,40,50,60],"title":"Loading force (μN)"}}}},
{"transform":[{"filter":"datum.s==0"}],"mark":{"type":"line","color":"#ff0000","strokeWidth":2},"encoding":{"x":{"field":"t","type":"quantitative","axis":null},"y":{"field":"v","type":"quantitative","axis":{"values":[0,10,20,30,40,50,60],"title":"Loading force (μN)"}}}},
{"data":{"values":[{}]},"mark":{"type":"text","text":"D","fontWeight":"bold","fontSize":23,"align":"left","baseline":"alphabetic"},"encoding":{"x":{"datum":-3,"axis":null},"y":{"datum":58.5,"axis":{"values":[0,10,20,30,40,50,60],"title":"Loading force (μN)"}}}},
{"data":{"values":[{}]},"mark":{"type":"text","text":"N","fontStyle":"italic","fontSize":14.5,"align":"right","baseline":"middle"},"encoding":{"x":{"datum":174,"axis":null},"y":{"datum":19.5,"axis":{"values":[0,10,20,30,40,50,60],"title":"Loading force (μN)"}}}},
{"data":{"values":[{}]},"mark":{"type":"text","text":"=9","fontSize":14.5,"align":"left","baseline":"middle"},"encoding":{"x":{"datum":174,"axis":null},"y":{"datum":19.5,"axis":{"values":[0,10,20,30,40,50,60],"title":"Loading force (μN)"}}}}
]},
{"width":172,"height":155,"data":{"name":"E"},"layer":[
{"transform":[{"filter":"datum.s>0"}],"mark":{"type":"line","color":"#bfbfbf","strokeWidth":1},"encoding":{"x":{"field":"t","type":"quantitative","scale":{"domain":[-15,418],"nice":false,"zero":false},"axis":null},"y":{"field":"v","type":"quantitative","scale":{"domain":[-6.3,69.3],"nice":false,"zero":false},"axis":null},"detail":{"field":"s"}}},
{"data":{"values":[{}]},"mark":{"type":"rule","color":"#ff0000","strokeDash":[2,2.5],"strokeWidth":2},"encoding":{"y":{"datum":20.2,"axis":null}}},
{"data":{"values":[{}]},"mark":{"type":"rule","color":"#000","strokeDash":[2,2.5],"strokeWidth":2},"encoding":{"y":{"datum":0,"axis":null}}},
{"transform":[{"filter":"datum.s==0"}],"mark":{"type":"line","color":"#ff0000","strokeWidth":2},"encoding":{"x":{"field":"t","type":"quantitative","axis":null},"y":{"field":"v","type":"quantitative","axis":null}}},
{"data":{"values":[{}]},"mark":{"type":"rule","color":"#000","strokeWidth":1.6},"encoding":{"x":{"datum":138,"axis":null},"y":{"datum":46.3,"axis":null},"y2":{"datum":41.5}}},
{"data":{"values":[{}]},"mark":{"type":"point","shape":"triangle-down","filled":true,"color":"#000","opacity":1,"size":50},"encoding":{"x":{"datum":138,"axis":null},"y":{"datum":40,"axis":null}}},
{"data":{"values":[{}]},"mark":{"type":"text","text":"E","fontWeight":"bold","fontSize":23,"align":"left","baseline":"alphabetic"},"encoding":{"x":{"datum":-3,"axis":null},"y":{"datum":58.5,"axis":null}}},
{"data":{"values":[{}]},"mark":{"type":"text","text":"Musca","fontStyle":"italic","fontSize":14.5,"align":"center","baseline":"middle"},"encoding":{"x":{"datum":163,"axis":null},"y":{"datum":56,"axis":null}}},
{"data":{"values":[{}]},"mark":{"type":"text","text":"N","fontStyle":"italic","fontSize":14.5,"align":"right","baseline":"middle"},"encoding":{"x":{"datum":307,"axis":null},"y":{"datum":56,"axis":null}}},
{"data":{"values":[{}]},"mark":{"type":"text","text":"=11","fontSize":14.5,"align":"left","baseline":"middle"},"encoding":{"x":{"datum":307,"axis":null},"y":{"datum":56,"axis":null}}}
]},
{"width":172,"height":155,"data":{"name":"F"},"layer":[
{"transform":[{"filter":"datum.s>0"}],"mark":{"type":"line","color":"#bfbfbf","strokeWidth":1},"encoding":{"x":{"field":"t","type":"quantitative","scale":{"domain":[-15,418],"nice":false,"zero":false},"axis":null},"y":{"field":"v","type":"quantitative","scale":{"domain":[-6.3,69.3],"nice":false,"zero":false},"axis":null},"detail":{"field":"s"}}},
{"data":{"values":[{}]},"mark":{"type":"rule","color":"#ff0000","strokeDash":[2,2.5],"strokeWidth":2},"encoding":{"y":{"datum":10.7,"axis":null}}},
{"data":{"values":[{}]},"mark":{"type":"rule","color":"#000","strokeDash":[2,2.5],"strokeWidth":2},"encoding":{"y":{"datum":0,"axis":null}}},
{"transform":[{"filter":"datum.s==0"}],"mark":{"type":"line","color":"#ff0000","strokeWidth":2},"encoding":{"x":{"field":"t","type":"quantitative","axis":null},"y":{"field":"v","type":"quantitative","axis":null}}},
{"data":{"values":[{}]},"mark":{"type":"rule","color":"#000","strokeWidth":1.6},"encoding":{"x":{"datum":159,"axis":null},"y":{"datum":40,"axis":null},"y2":{"datum":35}}},
{"data":{"values":[{}]},"mark":{"type":"point","shape":"triangle-down","filled":true,"color":"#000","opacity":1,"size":50},"encoding":{"x":{"datum":159,"axis":null},"y":{"datum":33.2,"axis":null}}},
{"data":{"values":[{}]},"mark":{"type":"text","text":"F","fontWeight":"bold","fontSize":23,"align":"left","baseline":"alphabetic"},"encoding":{"x":{"datum":-3,"axis":null},"y":{"datum":58.5,"axis":null}}},
{"data":{"values":[{}]},"mark":{"type":"text","text":"N","fontStyle":"italic","fontSize":14.5,"align":"right","baseline":"middle"},"encoding":{"x":{"datum":312,"axis":null},"y":{"datum":56,"axis":null}}},
{"data":{"values":[{}]},"mark":{"type":"text","text":"=11","fontSize":14.5,"align":"left","baseline":"middle"},"encoding":{"x":{"datum":312,"axis":null},"y":{"datum":56,"axis":null}}}
]},
{"width":172,"height":155,"data":{"name":"G"},"layer":[
{"transform":[{"filter":"datum.s>0"}],"mark":{"type":"line","color":"#bfbfbf","strokeWidth":1},"encoding":{"x":{"field":"t","type":"quantitative","scale":{"domain":[-15,418],"nice":false,"zero":false},"axis":{"values":[0,100,200,300,400],"title":null,"labelPadding":6}},"y":{"field":"v","type":"quantitative","scale":{"domain":[-8,291],"nice":false,"zero":false},"axis":{"values":[0,50,100,150,200,250],"title":"Loading force (μN)","titleOpacity":0}},"detail":{"field":"s"}}},
{"data":{"values":[{}]},"mark":{"type":"rule","color":"#ff0000","strokeDash":[2,2.5],"strokeWidth":2},"encoding":{"y":{"datum":241,"axis":{"values":[0,50,100,150,200,250],"title":"Loading force (μN)","titleOpacity":0}}}},
{"data":{"values":[{}]},"mark":{"type":"rule","color":"#000","strokeDash":[2,2.5],"strokeWidth":2},"encoding":{"y":{"datum":0,"axis":{"values":[0,50,100,150,200,250],"title":"Loading force (μN)","titleOpacity":0}}}},
{"transform":[{"filter":"datum.s==0"}],"mark":{"type":"line","color":"#ff0000","strokeWidth":2},"encoding":{"x":{"field":"t","type":"quantitative","axis":{"values":[0,100,200,300,400],"title":null,"labelPadding":6}},"y":{"field":"v","type":"quantitative","axis":{"values":[0,50,100,150,200,250],"title":"Loading force (μN)","titleOpacity":0}}}},
{"data":{"values":[{}]},"mark":{"type":"text","text":"G","fontWeight":"bold","fontSize":23,"align":"left","baseline":"alphabetic"},"encoding":{"x":{"datum":-3,"axis":{"values":[0,100,200,300,400],"title":null,"labelPadding":6}},"y":{"datum":244,"axis":{"values":[0,50,100,150,200,250],"title":"Loading force (μN)","titleOpacity":0}}}},
{"data":{"values":[{}]},"mark":{"type":"text","text":"N","fontStyle":"italic","fontSize":14.5,"align":"right","baseline":"middle"},"encoding":{"x":{"datum":128,"axis":{"values":[0,100,200,300,400],"title":null,"labelPadding":6}},"y":{"datum":58,"axis":{"values":[0,50,100,150,200,250],"title":"Loading force (μN)","titleOpacity":0}}}},
{"data":{"values":[{}]},"mark":{"type":"text","text":"=11","fontSize":14.5,"align":"left","baseline":"middle"},"encoding":{"x":{"datum":128,"axis":{"values":[0,100,200,300,400],"title":null,"labelPadding":6}},"y":{"datum":58,"axis":{"values":[0,50,100,150,200,250],"title":"Loading force (μN)","titleOpacity":0}}}}
]},
{"width":172,"height":155,"data":{"name":"H"},"layer":[
{"transform":[{"filter":"datum.s>0"}],"mark":{"type":"line","color":"#bfbfbf","strokeWidth":1},"encoding":{"x":{"field":"t","type":"quantitative","scale":{"domain":[-15,418],"nice":false,"zero":false},"axis":{"values":[0,100,200,300,400],"title":"Time (s)","labelPadding":6,"titlePadding":4}},"y":{"field":"v","type":"quantitative","scale":{"domain":[-8,291],"nice":false,"zero":false},"axis":null},"detail":{"field":"s"}}},
{"data":{"values":[{}]},"mark":{"type":"rule","color":"#ff0000","strokeDash":[2,2.5],"strokeWidth":2},"encoding":{"y":{"datum":126.6,"axis":null}}},
{"data":{"values":[{}]},"mark":{"type":"rule","color":"#000","strokeDash":[2,2.5],"strokeWidth":2},"encoding":{"y":{"datum":0,"axis":null}}},
{"transform":[{"filter":"datum.s==0"}],"mark":{"type":"line","color":"#ff0000","strokeWidth":2},"encoding":{"x":{"field":"t","type":"quantitative","axis":{"values":[0,100,200,300,400],"title":"Time (s)","labelPadding":6,"titlePadding":4}},"y":{"field":"v","type":"quantitative","axis":null}}},
{"data":{"values":[{}]},"mark":{"type":"text","text":"H","fontWeight":"bold","fontSize":23,"align":"left","baseline":"alphabetic"},"encoding":{"x":{"datum":-3,"axis":{"values":[0,100,200,300,400],"title":"Time (s)","labelPadding":6,"titlePadding":4}},"y":{"datum":244,"axis":null}}},
{"data":{"values":[{}]},"mark":{"type":"text","text":"Calliphora","fontStyle":"italic","fontSize":14.5,"align":"center","baseline":"middle"},"encoding":{"x":{"datum":158,"axis":{"values":[0,100,200,300,400],"title":"Time (s)","labelPadding":6,"titlePadding":4}},"y":{"datum":230,"axis":null}}},
{"data":{"values":[{}]},"mark":{"type":"text","text":"N","fontStyle":"italic","fontSize":14.5,"align":"right","baseline":"middle"},"encoding":{"x":{"datum":299,"axis":{"values":[0,100,200,300,400],"title":"Time (s)","labelPadding":6,"titlePadding":4}},"y":{"datum":230,"axis":null}}},
{"data":{"values":[{}]},"mark":{"type":"text","text":"=10","fontSize":14.5,"align":"left","baseline":"middle"},"encoding":{"x":{"datum":299,"axis":{"values":[0,100,200,300,400],"title":"Time (s)","labelPadding":6,"titlePadding":4}},"y":{"datum":230,"axis":null}}}
]},
{"width":172,"height":155,"data":{"name":"I"},"layer":[
{"transform":[{"filter":"datum.s>0"}],"mark":{"type":"line","color":"#bfbfbf","strokeWidth":1},"encoding":{"x":{"field":"t","type":"quantitative","scale":{"domain":[-15,418],"nice":false,"zero":false},"axis":{"values":[0,100,200,300,400],"title":null,"labelPadding":6}},"y":{"field":"v","type":"quantitative","scale":{"domain":[-8,291],"nice":false,"zero":false},"axis":null},"detail":{"field":"s"}}},
{"data":{"values":[{}]},"mark":{"type":"rule","color":"#ff0000","strokeDash":[2,2.5],"strokeWidth":2},"encoding":{"y":{"datum":68.5,"axis":null}}},
{"data":{"values":[{}]},"mark":{"type":"rule","color":"#000","strokeDash":[2,2.5],"strokeWidth":2},"encoding":{"y":{"datum":0,"axis":null}}},
{"transform":[{"filter":"datum.s==0"}],"mark":{"type":"line","color":"#ff0000","strokeWidth":2},"encoding":{"x":{"field":"t","type":"quantitative","axis":{"values":[0,100,200,300,400],"title":null,"labelPadding":6}},"y":{"field":"v","type":"quantitative","axis":null}}},
{"data":{"values":[{}]},"mark":{"type":"text","text":"I","fontWeight":"bold","fontSize":23,"align":"left","baseline":"alphabetic"},"encoding":{"x":{"datum":-3,"axis":{"values":[0,100,200,300,400],"title":null,"labelPadding":6}},"y":{"datum":244,"axis":null}}},
{"data":{"values":[{}]},"mark":{"type":"text","text":"N","fontStyle":"italic","fontSize":14.5,"align":"right","baseline":"middle"},"encoding":{"x":{"datum":299,"axis":{"values":[0,100,200,300,400],"title":null,"labelPadding":6}},"y":{"datum":230,"axis":null}}},
{"data":{"values":[{}]},"mark":{"type":"text","text":"=10","fontSize":14.5,"align":"left","baseline":"middle"},"encoding":{"x":{"datum":299,"axis":{"values":[0,100,200,300,400],"title":null,"labelPadding":6}},"y":{"datum":230,"axis":null}}}
]}
]
}
